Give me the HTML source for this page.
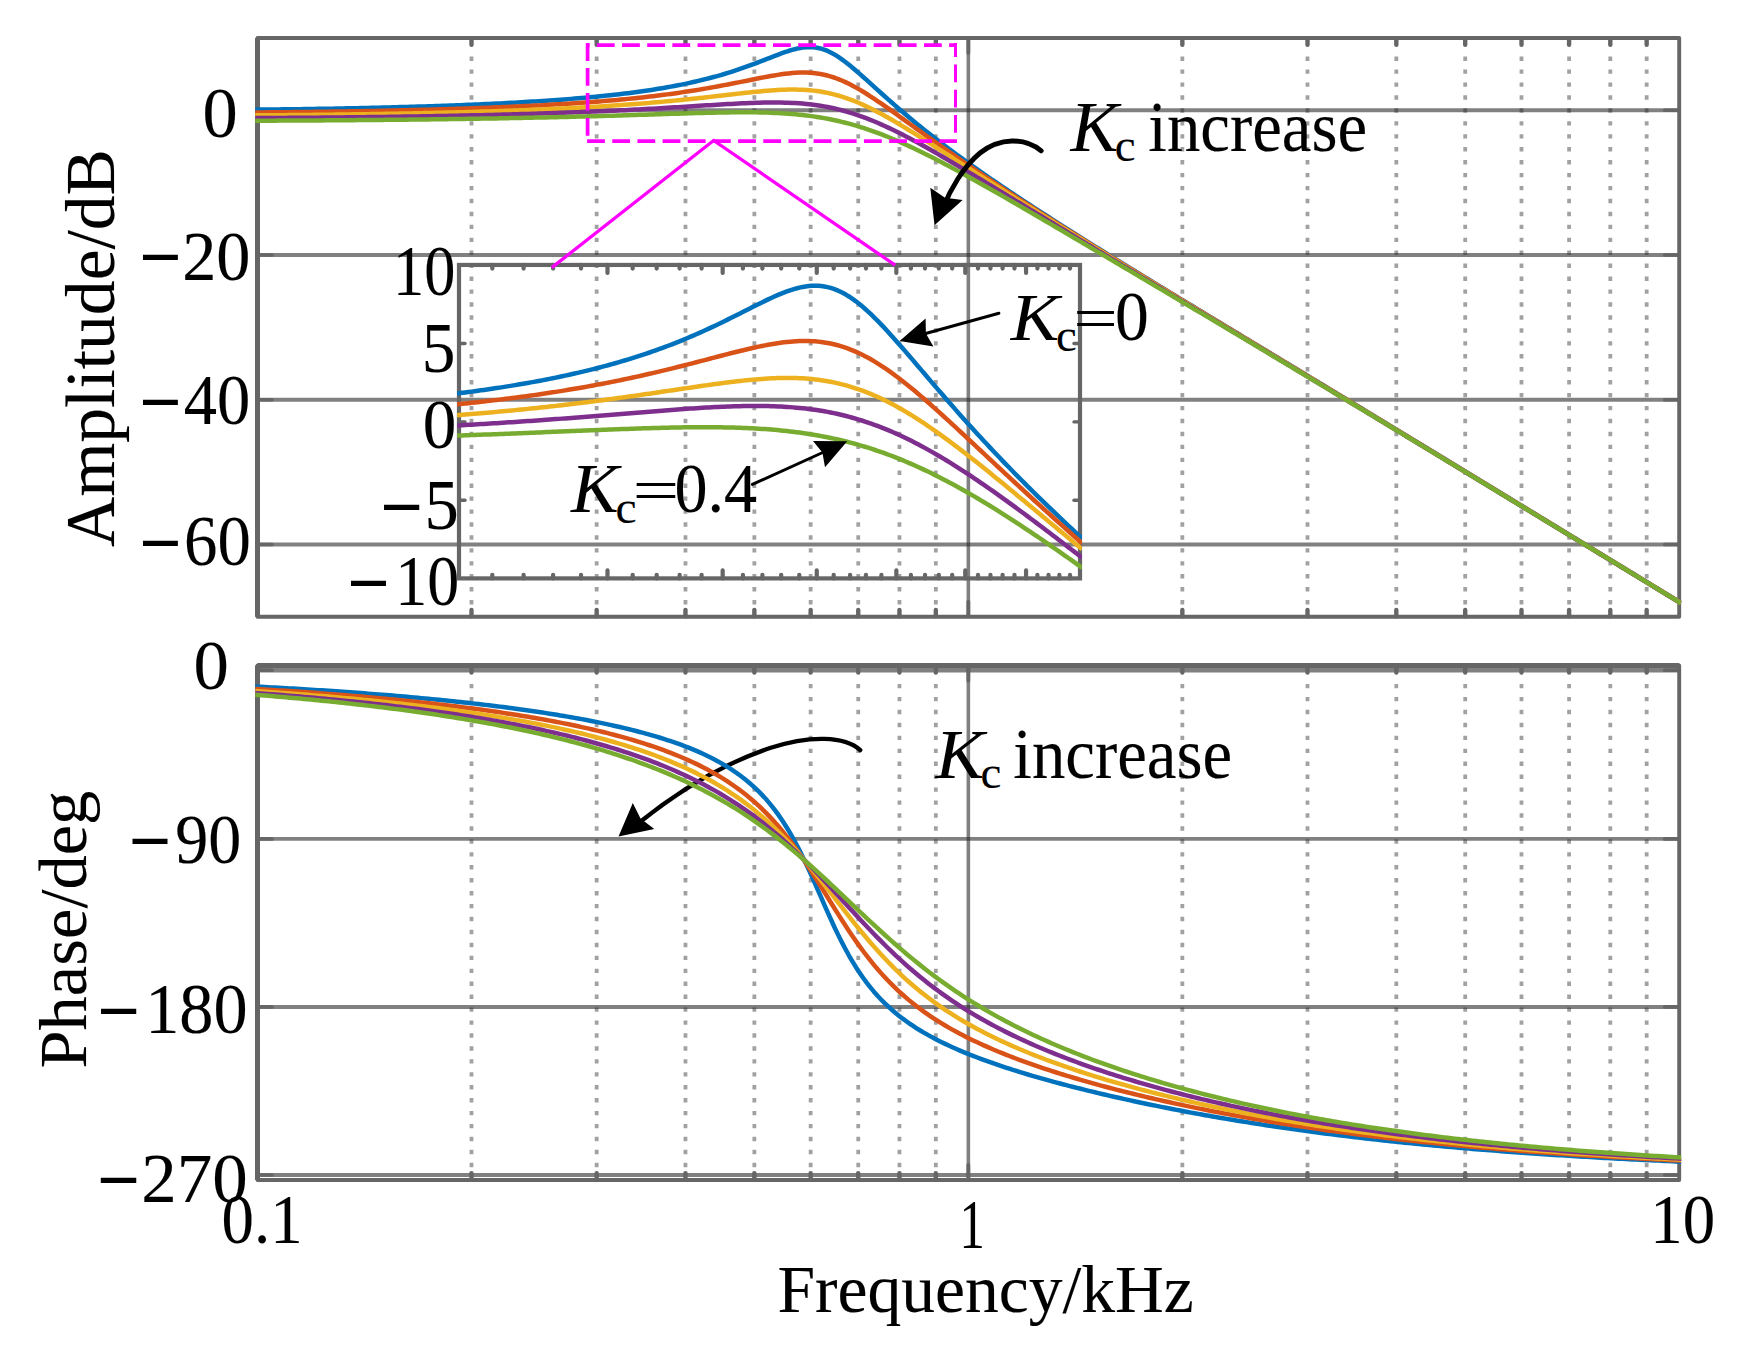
<!DOCTYPE html>
<html lang="en"><head><meta charset="utf-8"><title>Bode plot</title>
<style>html,body{margin:0;padding:0;background:#fff}svg{display:block}</style>
</head><body>
<svg width="1739" height="1354" viewBox="0 0 1739 1354">
<rect width="1739" height="1354" fill="#fff"/>
<defs>
<clipPath id="ct"><rect x="255.0" y="37.95" width="1426.2" height="578.8499999999999"/></clipPath>
<clipPath id="cb"><rect x="255.0" y="665.55" width="1426.2" height="514.45"/></clipPath>
<clipPath id="ci"><rect x="457.1" y="264.95" width="624.8" height="313.45"/></clipPath>
</defs>
<line x1="471.49" y1="56.50" x2="471.49" y2="612.80" stroke="#000" stroke-opacity="0.37" stroke-width="3.8" stroke-dasharray="4.4 8.54"/>
<line x1="596.66" y1="56.50" x2="596.66" y2="612.80" stroke="#000" stroke-opacity="0.37" stroke-width="3.8" stroke-dasharray="4.4 8.54"/>
<line x1="685.47" y1="56.50" x2="685.47" y2="612.80" stroke="#000" stroke-opacity="0.37" stroke-width="3.8" stroke-dasharray="4.4 8.54"/>
<line x1="754.36" y1="56.50" x2="754.36" y2="612.80" stroke="#000" stroke-opacity="0.37" stroke-width="3.8" stroke-dasharray="4.4 8.54"/>
<line x1="810.65" y1="56.50" x2="810.65" y2="612.80" stroke="#000" stroke-opacity="0.37" stroke-width="3.8" stroke-dasharray="4.4 8.54"/>
<line x1="858.24" y1="56.50" x2="858.24" y2="612.80" stroke="#000" stroke-opacity="0.37" stroke-width="3.8" stroke-dasharray="4.4 8.54"/>
<line x1="899.46" y1="56.50" x2="899.46" y2="612.80" stroke="#000" stroke-opacity="0.37" stroke-width="3.8" stroke-dasharray="4.4 8.54"/>
<line x1="935.82" y1="56.50" x2="935.82" y2="612.80" stroke="#000" stroke-opacity="0.37" stroke-width="3.8" stroke-dasharray="4.4 8.54"/>
<line x1="1182.34" y1="56.50" x2="1182.34" y2="612.80" stroke="#000" stroke-opacity="0.37" stroke-width="3.8" stroke-dasharray="4.4 8.54"/>
<line x1="1307.51" y1="56.50" x2="1307.51" y2="612.80" stroke="#000" stroke-opacity="0.37" stroke-width="3.8" stroke-dasharray="4.4 8.54"/>
<line x1="1396.32" y1="56.50" x2="1396.32" y2="612.80" stroke="#000" stroke-opacity="0.37" stroke-width="3.8" stroke-dasharray="4.4 8.54"/>
<line x1="1465.21" y1="56.50" x2="1465.21" y2="612.80" stroke="#000" stroke-opacity="0.37" stroke-width="3.8" stroke-dasharray="4.4 8.54"/>
<line x1="1521.50" y1="56.50" x2="1521.50" y2="612.80" stroke="#000" stroke-opacity="0.37" stroke-width="3.8" stroke-dasharray="4.4 8.54"/>
<line x1="1569.09" y1="56.50" x2="1569.09" y2="612.80" stroke="#000" stroke-opacity="0.37" stroke-width="3.8" stroke-dasharray="4.4 8.54"/>
<line x1="1610.31" y1="56.50" x2="1610.31" y2="612.80" stroke="#000" stroke-opacity="0.37" stroke-width="3.8" stroke-dasharray="4.4 8.54"/>
<line x1="1646.67" y1="56.50" x2="1646.67" y2="612.80" stroke="#000" stroke-opacity="0.37" stroke-width="3.8" stroke-dasharray="4.4 8.54"/>
<line x1="968.35" y1="37.95" x2="968.35" y2="616.80" stroke="#262626" stroke-opacity="0.585" stroke-width="3.6"/>
<line x1="257.50" y1="110.25" x2="1679.20" y2="110.25" stroke="#262626" stroke-opacity="0.585" stroke-width="3.9"/>
<line x1="257.50" y1="255.00" x2="1679.20" y2="255.00" stroke="#262626" stroke-opacity="0.585" stroke-width="3.9"/>
<line x1="257.50" y1="399.75" x2="1679.20" y2="399.75" stroke="#262626" stroke-opacity="0.585" stroke-width="3.9"/>
<line x1="257.50" y1="544.50" x2="1679.20" y2="544.50" stroke="#262626" stroke-opacity="0.585" stroke-width="3.9"/>
<line x1="258.50" y1="110.25" x2="272.00" y2="110.25" stroke="#666666" stroke-width="3.6999999999999997" stroke-linecap="round"/>
<line x1="1678.20" y1="110.25" x2="1664.70" y2="110.25" stroke="#666666" stroke-width="3.6999999999999997" stroke-linecap="round"/>
<line x1="258.50" y1="255.00" x2="272.00" y2="255.00" stroke="#666666" stroke-width="3.6999999999999997" stroke-linecap="round"/>
<line x1="1678.20" y1="255.00" x2="1664.70" y2="255.00" stroke="#666666" stroke-width="3.6999999999999997" stroke-linecap="round"/>
<line x1="258.50" y1="399.75" x2="272.00" y2="399.75" stroke="#666666" stroke-width="3.6999999999999997" stroke-linecap="round"/>
<line x1="1678.20" y1="399.75" x2="1664.70" y2="399.75" stroke="#666666" stroke-width="3.6999999999999997" stroke-linecap="round"/>
<line x1="258.50" y1="544.50" x2="272.00" y2="544.50" stroke="#666666" stroke-width="3.6999999999999997" stroke-linecap="round"/>
<line x1="1678.20" y1="544.50" x2="1664.70" y2="544.50" stroke="#666666" stroke-width="3.6999999999999997" stroke-linecap="round"/>
<line x1="471.49" y1="38.55" x2="471.49" y2="44.85" stroke="#666666" stroke-width="4.4" stroke-linecap="round"/>
<line x1="471.49" y1="616.20" x2="471.49" y2="609.90" stroke="#666666" stroke-width="4.4" stroke-linecap="round"/>
<line x1="596.66" y1="38.55" x2="596.66" y2="44.85" stroke="#666666" stroke-width="4.4" stroke-linecap="round"/>
<line x1="596.66" y1="616.20" x2="596.66" y2="609.90" stroke="#666666" stroke-width="4.4" stroke-linecap="round"/>
<line x1="685.47" y1="38.55" x2="685.47" y2="44.85" stroke="#666666" stroke-width="4.4" stroke-linecap="round"/>
<line x1="685.47" y1="616.20" x2="685.47" y2="609.90" stroke="#666666" stroke-width="4.4" stroke-linecap="round"/>
<line x1="754.36" y1="38.55" x2="754.36" y2="44.85" stroke="#666666" stroke-width="4.4" stroke-linecap="round"/>
<line x1="754.36" y1="616.20" x2="754.36" y2="609.90" stroke="#666666" stroke-width="4.4" stroke-linecap="round"/>
<line x1="810.65" y1="38.55" x2="810.65" y2="44.85" stroke="#666666" stroke-width="4.4" stroke-linecap="round"/>
<line x1="810.65" y1="616.20" x2="810.65" y2="609.90" stroke="#666666" stroke-width="4.4" stroke-linecap="round"/>
<line x1="858.24" y1="38.55" x2="858.24" y2="44.85" stroke="#666666" stroke-width="4.4" stroke-linecap="round"/>
<line x1="858.24" y1="616.20" x2="858.24" y2="609.90" stroke="#666666" stroke-width="4.4" stroke-linecap="round"/>
<line x1="899.46" y1="38.55" x2="899.46" y2="44.85" stroke="#666666" stroke-width="4.4" stroke-linecap="round"/>
<line x1="899.46" y1="616.20" x2="899.46" y2="609.90" stroke="#666666" stroke-width="4.4" stroke-linecap="round"/>
<line x1="935.82" y1="38.55" x2="935.82" y2="44.85" stroke="#666666" stroke-width="4.4" stroke-linecap="round"/>
<line x1="935.82" y1="616.20" x2="935.82" y2="609.90" stroke="#666666" stroke-width="4.4" stroke-linecap="round"/>
<line x1="1182.34" y1="38.55" x2="1182.34" y2="44.85" stroke="#666666" stroke-width="4.4" stroke-linecap="round"/>
<line x1="1182.34" y1="616.20" x2="1182.34" y2="609.90" stroke="#666666" stroke-width="4.4" stroke-linecap="round"/>
<line x1="1307.51" y1="38.55" x2="1307.51" y2="44.85" stroke="#666666" stroke-width="4.4" stroke-linecap="round"/>
<line x1="1307.51" y1="616.20" x2="1307.51" y2="609.90" stroke="#666666" stroke-width="4.4" stroke-linecap="round"/>
<line x1="1396.32" y1="38.55" x2="1396.32" y2="44.85" stroke="#666666" stroke-width="4.4" stroke-linecap="round"/>
<line x1="1396.32" y1="616.20" x2="1396.32" y2="609.90" stroke="#666666" stroke-width="4.4" stroke-linecap="round"/>
<line x1="1465.21" y1="38.55" x2="1465.21" y2="44.85" stroke="#666666" stroke-width="4.4" stroke-linecap="round"/>
<line x1="1465.21" y1="616.20" x2="1465.21" y2="609.90" stroke="#666666" stroke-width="4.4" stroke-linecap="round"/>
<line x1="1521.50" y1="38.55" x2="1521.50" y2="44.85" stroke="#666666" stroke-width="4.4" stroke-linecap="round"/>
<line x1="1521.50" y1="616.20" x2="1521.50" y2="609.90" stroke="#666666" stroke-width="4.4" stroke-linecap="round"/>
<line x1="1569.09" y1="38.55" x2="1569.09" y2="44.85" stroke="#666666" stroke-width="4.4" stroke-linecap="round"/>
<line x1="1569.09" y1="616.20" x2="1569.09" y2="609.90" stroke="#666666" stroke-width="4.4" stroke-linecap="round"/>
<line x1="1610.31" y1="38.55" x2="1610.31" y2="44.85" stroke="#666666" stroke-width="4.4" stroke-linecap="round"/>
<line x1="1610.31" y1="616.20" x2="1610.31" y2="609.90" stroke="#666666" stroke-width="4.4" stroke-linecap="round"/>
<line x1="1646.67" y1="38.55" x2="1646.67" y2="44.85" stroke="#666666" stroke-width="4.4" stroke-linecap="round"/>
<line x1="1646.67" y1="616.20" x2="1646.67" y2="609.90" stroke="#666666" stroke-width="4.4" stroke-linecap="round"/>
<line x1="968.35" y1="38.95" x2="968.35" y2="53.05" stroke="#666666" stroke-width="3.8" stroke-linecap="round"/>
<line x1="968.35" y1="615.80" x2="968.35" y2="601.70" stroke="#666666" stroke-width="3.8" stroke-linecap="round"/>
<rect x="257.50" y="37.95" width="1421.70" height="578.85" fill="none" stroke="#666666" stroke-width="3.9" stroke-linejoin="round"/>
<line x1="257.50" y1="37.95" x2="257.50" y2="616.80" stroke="#666666" stroke-width="5"/>
<g clip-path="url(#ct)" fill="none" stroke-width="4.5" stroke-linejoin="round" stroke-linecap="square">
<path d="M257.50 109.60 L261.06 109.57 L264.63 109.54 L268.19 109.50 L271.75 109.47 L275.32 109.43 L278.88 109.39 L282.44 109.35 L286.01 109.31 L289.57 109.27 L293.13 109.22 L296.69 109.18 L300.26 109.13 L303.82 109.08 L307.38 109.03 L310.95 108.98 L314.51 108.92 L318.07 108.87 L321.64 108.81 L325.20 108.75 L328.76 108.69 L332.33 108.63 L335.89 108.57 L339.45 108.50 L343.02 108.44 L346.58 108.37 L350.14 108.30 L353.71 108.22 L357.27 108.15 L360.83 108.08 L364.39 108.00 L367.96 107.92 L371.52 107.84 L375.08 107.76 L378.65 107.67 L382.21 107.59 L385.77 107.50 L389.34 107.41 L392.90 107.31 L396.46 107.22 L400.03 107.12 L403.59 107.02 L407.15 106.92 L410.72 106.82 L414.28 106.72 L417.84 106.61 L421.41 106.50 L424.97 106.39 L428.53 106.27 L432.09 106.16 L435.66 106.04 L439.22 105.92 L442.78 105.79 L446.35 105.66 L449.91 105.53 L453.47 105.40 L457.04 105.27 L460.60 105.13 L464.16 104.99 L467.73 104.84 L471.29 104.70 L474.85 104.54 L478.42 104.39 L481.98 104.23 L485.54 104.07 L489.11 103.91 L492.67 103.74 L496.23 103.57 L499.79 103.39 L503.36 103.21 L506.92 103.03 L510.48 102.84 L514.05 102.65 L517.61 102.46 L521.17 102.25 L524.74 102.05 L528.30 101.84 L531.86 101.62 L535.43 101.40 L538.99 101.18 L542.55 100.95 L546.12 100.71 L549.68 100.47 L553.24 100.22 L556.81 99.96 L560.37 99.70 L563.93 99.43 L567.49 99.16 L571.06 98.88 L574.62 98.59 L578.18 98.29 L581.75 97.99 L585.31 97.68 L588.87 97.36 L592.44 97.03 L596.00 96.69 L599.56 96.34 L603.13 95.98 L606.69 95.61 L610.25 95.24 L613.82 94.84 L617.38 94.44 L620.94 94.03 L624.51 93.60 L628.07 93.16 L631.63 92.70 L635.19 92.23 L638.76 91.75 L642.32 91.25 L645.88 90.74 L649.45 90.21 L653.01 89.66 L656.57 89.09 L660.14 88.51 L663.70 87.91 L667.26 87.29 L670.83 86.64 L674.39 85.98 L677.95 85.29 L681.52 84.59 L685.08 83.85 L688.64 83.10 L692.21 82.32 L695.77 81.51 L699.33 80.67 L702.89 79.81 L706.46 78.92 L710.02 77.99 L713.58 77.04 L717.15 76.06 L720.71 75.04 L724.27 73.99 L727.84 72.91 L731.40 71.79 L734.96 70.64 L738.53 69.46 L742.09 68.24 L745.65 66.99 L749.22 65.70 L752.78 64.39 L756.34 63.05 L759.91 61.69 L763.47 60.32 L767.03 58.93 L770.59 57.54 L774.16 56.15 L777.72 54.79 L781.28 53.47 L784.85 52.20 L788.41 51.01 L791.97 49.92 L795.54 48.97 L799.10 48.17 L802.66 47.57 L806.23 47.19 L809.79 47.07 L813.35 47.22 L816.92 47.68 L820.48 48.46 L824.04 49.55 L827.61 50.96 L831.17 52.66 L834.73 54.64 L838.29 56.88 L841.86 59.33 L845.42 61.98 L848.98 64.78 L852.55 67.70 L856.11 70.73 L859.67 73.83 L863.24 76.98 L866.80 80.17 L870.36 83.39 L873.93 86.60 L877.49 89.82 L881.05 93.02 L884.62 96.21 L888.18 99.38 L891.74 102.52 L895.31 105.63 L898.87 108.71 L902.43 111.76 L905.99 114.78 L909.56 117.77 L913.12 120.73 L916.68 123.65 L920.25 126.55 L923.81 129.41 L927.37 132.25 L930.94 135.06 L934.50 137.84 L938.06 140.59 L941.63 143.32 L945.19 146.02 L948.75 148.69 L952.32 151.35 L955.88 153.98 L959.44 156.59 L963.01 159.18 L966.57 161.75 L970.13 164.30 L973.69 166.84 L977.26 169.35 L980.82 171.85 L984.38 174.34 L987.95 176.81 L991.51 179.26 L995.07 181.70 L998.64 184.13 L1002.20 186.54 L1005.76 188.95 L1009.33 191.34 L1012.89 193.72 L1016.45 196.09 L1020.02 198.44 L1023.58 200.79 L1027.14 203.13 L1030.71 205.47 L1034.27 207.79 L1037.83 210.10 L1041.39 212.41 L1044.96 214.71 L1048.52 217.00 L1052.08 219.29 L1055.65 221.57 L1059.21 223.84 L1062.77 226.11 L1066.34 228.37 L1069.90 230.63 L1073.46 232.88 L1077.03 235.13 L1080.59 237.37 L1084.15 239.60 L1087.72 241.84 L1091.28 244.07 L1094.84 246.29 L1098.41 248.51 L1101.97 250.73 L1105.53 252.94 L1109.09 255.15 L1112.66 257.36 L1116.22 259.56 L1119.78 261.76 L1123.35 263.96 L1126.91 266.15 L1130.47 268.35 L1134.04 270.54 L1137.60 272.72 L1141.16 274.91 L1144.73 277.09 L1148.29 279.27 L1151.85 281.45 L1155.42 283.62 L1158.98 285.80 L1162.54 287.97 L1166.11 290.14 L1169.67 292.30 L1173.23 294.47 L1176.79 296.63 L1180.36 298.80 L1183.92 300.96 L1187.48 303.12 L1191.05 305.27 L1194.61 307.43 L1198.17 309.59 L1201.74 311.75 L1205.30 313.90 L1208.86 316.06 L1212.43 318.22 L1215.99 320.37 L1219.55 322.53 L1223.12 324.68 L1226.68 326.84 L1230.24 328.99 L1233.81 331.15 L1237.37 333.30 L1240.93 335.46 L1244.49 337.61 L1248.06 339.77 L1251.62 341.92 L1255.18 344.08 L1258.75 346.23 L1262.31 348.39 L1265.87 350.54 L1269.44 352.70 L1273.00 354.85 L1276.56 357.01 L1280.13 359.16 L1283.69 361.32 L1287.25 363.47 L1290.82 365.63 L1294.38 367.78 L1297.94 369.94 L1301.51 372.10 L1305.07 374.25 L1308.63 376.41 L1312.19 378.57 L1315.76 380.72 L1319.32 382.88 L1322.88 385.04 L1326.45 387.20 L1330.01 389.35 L1333.57 391.51 L1337.14 393.67 L1340.70 395.83 L1344.26 397.99 L1347.83 400.15 L1351.39 402.31 L1354.95 404.47 L1358.52 406.63 L1362.08 408.79 L1365.64 410.95 L1369.21 413.11 L1372.77 415.27 L1376.33 417.43 L1379.89 419.59 L1383.46 421.75 L1387.02 423.91 L1390.58 426.07 L1394.15 428.24 L1397.71 430.40 L1401.27 432.56 L1404.84 434.73 L1408.40 436.89 L1411.96 439.05 L1415.53 441.22 L1419.09 443.38 L1422.65 445.54 L1426.22 447.71 L1429.78 449.87 L1433.34 452.04 L1436.91 454.20 L1440.47 456.37 L1444.03 458.53 L1447.59 460.70 L1451.16 462.86 L1454.72 465.03 L1458.28 467.20 L1461.85 469.36 L1465.41 471.53 L1468.97 473.70 L1472.54 475.86 L1476.10 478.03 L1479.66 480.20 L1483.23 482.37 L1486.79 484.53 L1490.35 486.70 L1493.92 488.87 L1497.48 491.04 L1501.04 493.21 L1504.61 495.38 L1508.17 497.54 L1511.73 499.71 L1515.29 501.88 L1518.86 504.05 L1522.42 506.22 L1525.98 508.39 L1529.55 510.56 L1533.11 512.73 L1536.67 514.90 L1540.24 517.07 L1543.80 519.24 L1547.36 521.41 L1550.93 523.58 L1554.49 525.75 L1558.05 527.92 L1561.62 530.09 L1565.18 532.26 L1568.74 534.44 L1572.31 536.61 L1575.87 538.78 L1579.43 540.95 L1582.99 543.12 L1586.56 545.29 L1590.12 547.46 L1593.68 549.64 L1597.25 551.81 L1600.81 553.98 L1604.37 556.15 L1607.94 558.33 L1611.50 560.50 L1615.06 562.67 L1618.63 564.84 L1622.19 567.02 L1625.75 569.19 L1629.32 571.36 L1632.88 573.53 L1636.44 575.71 L1640.01 577.88 L1643.57 580.05 L1647.13 582.23 L1650.69 584.40 L1654.26 586.57 L1657.82 588.75 L1661.38 590.92 L1664.95 593.09 L1668.51 595.27 L1672.07 597.44 L1675.64 599.62 L1679.20 601.79" stroke="#0072BD"/>
<path d="M257.50 112.44 L261.06 112.42 L264.63 112.39 L268.19 112.36 L271.75 112.33 L275.32 112.30 L278.88 112.26 L282.44 112.23 L286.01 112.19 L289.57 112.16 L293.13 112.12 L296.69 112.08 L300.26 112.04 L303.82 112.00 L307.38 111.96 L310.95 111.91 L314.51 111.87 L318.07 111.82 L321.64 111.77 L325.20 111.72 L328.76 111.67 L332.33 111.62 L335.89 111.57 L339.45 111.51 L343.02 111.45 L346.58 111.40 L350.14 111.34 L353.71 111.28 L357.27 111.22 L360.83 111.15 L364.39 111.09 L367.96 111.02 L371.52 110.95 L375.08 110.88 L378.65 110.81 L382.21 110.74 L385.77 110.67 L389.34 110.59 L392.90 110.51 L396.46 110.43 L400.03 110.35 L403.59 110.27 L407.15 110.19 L410.72 110.10 L414.28 110.01 L417.84 109.92 L421.41 109.83 L424.97 109.73 L428.53 109.64 L432.09 109.54 L435.66 109.44 L439.22 109.34 L442.78 109.23 L446.35 109.13 L449.91 109.02 L453.47 108.91 L457.04 108.79 L460.60 108.68 L464.16 108.56 L467.73 108.44 L471.29 108.31 L474.85 108.19 L478.42 108.06 L481.98 107.93 L485.54 107.79 L489.11 107.66 L492.67 107.51 L496.23 107.37 L499.79 107.22 L503.36 107.07 L506.92 106.92 L510.48 106.76 L514.05 106.60 L517.61 106.44 L521.17 106.27 L524.74 106.10 L528.30 105.93 L531.86 105.75 L535.43 105.56 L538.99 105.38 L542.55 105.18 L546.12 104.99 L549.68 104.79 L553.24 104.58 L556.81 104.37 L560.37 104.16 L563.93 103.94 L567.49 103.71 L571.06 103.48 L574.62 103.24 L578.18 103.00 L581.75 102.75 L585.31 102.50 L588.87 102.24 L592.44 101.97 L596.00 101.70 L599.56 101.42 L603.13 101.13 L606.69 100.83 L610.25 100.53 L613.82 100.22 L617.38 99.90 L620.94 99.57 L624.51 99.23 L628.07 98.88 L631.63 98.52 L635.19 98.16 L638.76 97.78 L642.32 97.39 L645.88 96.99 L649.45 96.59 L653.01 96.17 L656.57 95.74 L660.14 95.29 L663.70 94.84 L667.26 94.37 L670.83 93.90 L674.39 93.40 L677.95 92.90 L681.52 92.38 L685.08 91.85 L688.64 91.31 L692.21 90.76 L695.77 90.19 L699.33 89.60 L702.89 89.00 L706.46 88.39 L710.02 87.77 L713.58 87.13 L717.15 86.48 L720.71 85.82 L724.27 85.15 L727.84 84.46 L731.40 83.77 L734.96 83.07 L738.53 82.36 L742.09 81.64 L745.65 80.92 L749.22 80.20 L752.78 79.48 L756.34 78.77 L759.91 78.07 L763.47 77.37 L767.03 76.70 L770.59 76.05 L774.16 75.43 L777.72 74.85 L781.28 74.31 L784.85 73.83 L788.41 73.40 L791.97 73.05 L795.54 72.78 L799.10 72.60 L802.66 72.52 L806.23 72.56 L809.79 72.71 L813.35 73.00 L816.92 73.42 L820.48 73.98 L824.04 74.70 L827.61 75.56 L831.17 76.58 L834.73 77.75 L838.29 79.06 L841.86 80.52 L845.42 82.11 L848.98 83.83 L852.55 85.67 L856.11 87.61 L859.67 89.66 L863.24 91.79 L866.80 94.00 L870.36 96.28 L873.93 98.62 L877.49 101.01 L881.05 103.45 L884.62 105.92 L888.18 108.42 L891.74 110.94 L895.31 113.48 L898.87 116.03 L902.43 118.59 L905.99 121.16 L909.56 123.73 L913.12 126.30 L916.68 128.87 L920.25 131.43 L923.81 134.00 L927.37 136.55 L930.94 139.10 L934.50 141.64 L938.06 144.17 L941.63 146.69 L945.19 149.20 L948.75 151.69 L952.32 154.18 L955.88 156.66 L959.44 159.13 L963.01 161.59 L966.57 164.03 L970.13 166.47 L973.69 168.89 L977.26 171.31 L980.82 173.71 L984.38 176.11 L987.95 178.49 L991.51 180.87 L995.07 183.24 L998.64 185.60 L1002.20 187.95 L1005.76 190.29 L1009.33 192.62 L1012.89 194.95 L1016.45 197.27 L1020.02 199.58 L1023.58 201.88 L1027.14 204.18 L1030.71 206.47 L1034.27 208.75 L1037.83 211.03 L1041.39 213.31 L1044.96 215.57 L1048.52 217.83 L1052.08 220.09 L1055.65 222.34 L1059.21 224.59 L1062.77 226.83 L1066.34 229.07 L1069.90 231.30 L1073.46 233.53 L1077.03 235.76 L1080.59 237.98 L1084.15 240.20 L1087.72 242.41 L1091.28 244.62 L1094.84 246.83 L1098.41 249.04 L1101.97 251.24 L1105.53 253.44 L1109.09 255.63 L1112.66 257.83 L1116.22 260.02 L1119.78 262.21 L1123.35 264.39 L1126.91 266.58 L1130.47 268.76 L1134.04 270.94 L1137.60 273.11 L1141.16 275.29 L1144.73 277.46 L1148.29 279.63 L1151.85 281.80 L1155.42 283.97 L1158.98 286.14 L1162.54 288.30 L1166.11 290.46 L1169.67 292.62 L1173.23 294.78 L1176.79 296.94 L1180.36 299.09 L1183.92 301.25 L1187.48 303.40 L1191.05 305.56 L1194.61 307.71 L1198.17 309.86 L1201.74 312.01 L1205.30 314.17 L1208.86 316.32 L1212.43 318.47 L1215.99 320.62 L1219.55 322.77 L1223.12 324.92 L1226.68 327.07 L1230.24 329.23 L1233.81 331.38 L1237.37 333.53 L1240.93 335.68 L1244.49 337.83 L1248.06 339.98 L1251.62 342.13 L1255.18 344.29 L1258.75 346.44 L1262.31 348.59 L1265.87 350.74 L1269.44 352.89 L1273.00 355.05 L1276.56 357.20 L1280.13 359.35 L1283.69 361.50 L1287.25 363.66 L1290.82 365.81 L1294.38 367.96 L1297.94 370.12 L1301.51 372.27 L1305.07 374.43 L1308.63 376.58 L1312.19 378.74 L1315.76 380.89 L1319.32 383.05 L1322.88 385.20 L1326.45 387.36 L1330.01 389.51 L1333.57 391.67 L1337.14 393.83 L1340.70 395.98 L1344.26 398.14 L1347.83 400.30 L1351.39 402.46 L1354.95 404.62 L1358.52 406.77 L1362.08 408.93 L1365.64 411.09 L1369.21 413.25 L1372.77 415.41 L1376.33 417.57 L1379.89 419.73 L1383.46 421.89 L1387.02 424.05 L1390.58 426.21 L1394.15 428.37 L1397.71 430.54 L1401.27 432.70 L1404.84 434.86 L1408.40 437.02 L1411.96 439.19 L1415.53 441.35 L1419.09 443.51 L1422.65 445.67 L1426.22 447.84 L1429.78 450.00 L1433.34 452.17 L1436.91 454.33 L1440.47 456.49 L1444.03 458.66 L1447.59 460.82 L1451.16 462.99 L1454.72 465.15 L1458.28 467.32 L1461.85 469.49 L1465.41 471.65 L1468.97 473.82 L1472.54 475.99 L1476.10 478.15 L1479.66 480.32 L1483.23 482.49 L1486.79 484.65 L1490.35 486.82 L1493.92 488.99 L1497.48 491.16 L1501.04 493.32 L1504.61 495.49 L1508.17 497.66 L1511.73 499.83 L1515.29 502.00 L1518.86 504.17 L1522.42 506.34 L1525.98 508.50 L1529.55 510.67 L1533.11 512.84 L1536.67 515.01 L1540.24 517.18 L1543.80 519.35 L1547.36 521.52 L1550.93 523.69 L1554.49 525.86 L1558.05 528.03 L1561.62 530.20 L1565.18 532.37 L1568.74 534.55 L1572.31 536.72 L1575.87 538.89 L1579.43 541.06 L1582.99 543.23 L1586.56 545.40 L1590.12 547.57 L1593.68 549.74 L1597.25 551.92 L1600.81 554.09 L1604.37 556.26 L1607.94 558.43 L1611.50 560.60 L1615.06 562.78 L1618.63 564.95 L1622.19 567.12 L1625.75 569.29 L1629.32 571.47 L1632.88 573.64 L1636.44 575.81 L1640.01 577.99 L1643.57 580.16 L1647.13 582.33 L1650.69 584.50 L1654.26 586.68 L1657.82 588.85 L1661.38 591.02 L1664.95 593.20 L1668.51 595.37 L1672.07 597.54 L1675.64 599.72 L1679.20 601.89" stroke="#D95319"/>
<path d="M257.50 115.34 L261.06 115.32 L264.63 115.29 L268.19 115.27 L271.75 115.24 L275.32 115.22 L278.88 115.19 L282.44 115.16 L286.01 115.13 L289.57 115.10 L293.13 115.07 L296.69 115.04 L300.26 115.00 L303.82 114.97 L307.38 114.93 L310.95 114.90 L314.51 114.86 L318.07 114.82 L321.64 114.78 L325.20 114.74 L328.76 114.70 L332.33 114.65 L335.89 114.61 L339.45 114.56 L343.02 114.52 L346.58 114.47 L350.14 114.42 L353.71 114.37 L357.27 114.32 L360.83 114.27 L364.39 114.21 L367.96 114.16 L371.52 114.10 L375.08 114.05 L378.65 113.99 L382.21 113.93 L385.77 113.87 L389.34 113.80 L392.90 113.74 L396.46 113.67 L400.03 113.61 L403.59 113.54 L407.15 113.47 L410.72 113.40 L414.28 113.32 L417.84 113.25 L421.41 113.18 L424.97 113.10 L428.53 113.02 L432.09 112.94 L435.66 112.86 L439.22 112.77 L442.78 112.69 L446.35 112.60 L449.91 112.51 L453.47 112.42 L457.04 112.33 L460.60 112.23 L464.16 112.14 L467.73 112.04 L471.29 111.94 L474.85 111.83 L478.42 111.73 L481.98 111.62 L485.54 111.51 L489.11 111.40 L492.67 111.29 L496.23 111.17 L499.79 111.05 L503.36 110.93 L506.92 110.81 L510.48 110.68 L514.05 110.55 L517.61 110.42 L521.17 110.29 L524.74 110.15 L528.30 110.01 L531.86 109.87 L535.43 109.72 L538.99 109.57 L542.55 109.42 L546.12 109.27 L549.68 109.11 L553.24 108.94 L556.81 108.78 L560.37 108.61 L563.93 108.44 L567.49 108.26 L571.06 108.08 L574.62 107.89 L578.18 107.71 L581.75 107.51 L585.31 107.32 L588.87 107.11 L592.44 106.91 L596.00 106.70 L599.56 106.48 L603.13 106.26 L606.69 106.04 L610.25 105.81 L613.82 105.57 L617.38 105.33 L620.94 105.08 L624.51 104.83 L628.07 104.57 L631.63 104.30 L635.19 104.03 L638.76 103.76 L642.32 103.47 L645.88 103.18 L649.45 102.88 L653.01 102.58 L656.57 102.27 L660.14 101.96 L663.70 101.63 L667.26 101.30 L670.83 100.97 L674.39 100.63 L677.95 100.28 L681.52 99.92 L685.08 99.56 L688.64 99.19 L692.21 98.82 L695.77 98.44 L699.33 98.06 L702.89 97.67 L706.46 97.27 L710.02 96.88 L713.58 96.48 L717.15 96.07 L720.71 95.66 L724.27 95.26 L727.84 94.85 L731.40 94.44 L734.96 94.04 L738.53 93.63 L742.09 93.24 L745.65 92.85 L749.22 92.47 L752.78 92.10 L756.34 91.74 L759.91 91.40 L763.47 91.07 L767.03 90.77 L770.59 90.50 L774.16 90.25 L777.72 90.03 L781.28 89.85 L784.85 89.71 L788.41 89.62 L791.97 89.58 L795.54 89.59 L799.10 89.66 L802.66 89.79 L806.23 90.00 L809.79 90.27 L813.35 90.63 L816.92 91.06 L820.48 91.58 L824.04 92.19 L827.61 92.89 L831.17 93.68 L834.73 94.56 L838.29 95.54 L841.86 96.61 L845.42 97.77 L848.98 99.02 L852.55 100.36 L856.11 101.78 L859.67 103.29 L863.24 104.87 L866.80 106.52 L870.36 108.25 L873.93 110.04 L877.49 111.89 L881.05 113.79 L884.62 115.74 L888.18 117.74 L891.74 119.78 L895.31 121.86 L898.87 123.97 L902.43 126.11 L905.99 128.28 L909.56 130.47 L913.12 132.68 L916.68 134.91 L920.25 137.15 L923.81 139.41 L927.37 141.67 L930.94 143.95 L934.50 146.24 L938.06 148.53 L941.63 150.82 L945.19 153.12 L948.75 155.42 L952.32 157.72 L955.88 160.02 L959.44 162.32 L963.01 164.62 L966.57 166.92 L970.13 169.22 L973.69 171.51 L977.26 173.81 L980.82 176.10 L984.38 178.38 L987.95 180.67 L991.51 182.94 L995.07 185.22 L998.64 187.49 L1002.20 189.76 L1005.76 192.03 L1009.33 194.29 L1012.89 196.54 L1016.45 198.80 L1020.02 201.05 L1023.58 203.29 L1027.14 205.53 L1030.71 207.77 L1034.27 210.01 L1037.83 212.24 L1041.39 214.47 L1044.96 216.69 L1048.52 218.91 L1052.08 221.13 L1055.65 223.35 L1059.21 225.56 L1062.77 227.77 L1066.34 229.98 L1069.90 232.18 L1073.46 234.38 L1077.03 236.58 L1080.59 238.78 L1084.15 240.97 L1087.72 243.16 L1091.28 245.35 L1094.84 247.54 L1098.41 249.72 L1101.97 251.91 L1105.53 254.09 L1109.09 256.26 L1112.66 258.44 L1116.22 260.62 L1119.78 262.79 L1123.35 264.96 L1126.91 267.13 L1130.47 269.30 L1134.04 271.47 L1137.60 273.63 L1141.16 275.79 L1144.73 277.96 L1148.29 280.12 L1151.85 282.28 L1155.42 284.43 L1158.98 286.59 L1162.54 288.74 L1166.11 290.90 L1169.67 293.05 L1173.23 295.20 L1176.79 297.35 L1180.36 299.50 L1183.92 301.65 L1187.48 303.79 L1191.05 305.94 L1194.61 308.09 L1198.17 310.23 L1201.74 312.38 L1205.30 314.53 L1208.86 316.67 L1212.43 318.82 L1215.99 320.97 L1219.55 323.11 L1223.12 325.26 L1226.68 327.41 L1230.24 329.56 L1233.81 331.70 L1237.37 333.85 L1240.93 336.00 L1244.49 338.15 L1248.06 340.29 L1251.62 342.44 L1255.18 344.59 L1258.75 346.74 L1262.31 348.89 L1265.87 351.04 L1269.44 353.19 L1273.00 355.34 L1276.56 357.49 L1280.13 359.64 L1283.69 361.79 L1287.25 363.94 L1290.82 366.09 L1294.38 368.24 L1297.94 370.39 L1301.51 372.54 L1305.07 374.70 L1308.63 376.85 L1312.19 379.00 L1315.76 381.16 L1319.32 383.31 L1322.88 385.46 L1326.45 387.62 L1330.01 389.77 L1333.57 391.93 L1337.14 394.08 L1340.70 396.24 L1344.26 398.40 L1347.83 400.55 L1351.39 402.71 L1354.95 404.87 L1358.52 407.02 L1362.08 409.18 L1365.64 411.34 L1369.21 413.50 L1372.77 415.66 L1376.33 417.81 L1379.89 419.97 L1383.46 422.13 L1387.02 424.29 L1390.58 426.45 L1394.15 428.61 L1397.71 430.77 L1401.27 432.94 L1404.84 435.10 L1408.40 437.26 L1411.96 439.42 L1415.53 441.58 L1419.09 443.74 L1422.65 445.91 L1426.22 448.07 L1429.78 450.23 L1433.34 452.40 L1436.91 454.56 L1440.47 456.72 L1444.03 458.89 L1447.59 461.05 L1451.16 463.22 L1454.72 465.38 L1458.28 467.55 L1461.85 469.71 L1465.41 471.88 L1468.97 474.05 L1472.54 476.21 L1476.10 478.38 L1479.66 480.54 L1483.23 482.71 L1486.79 484.88 L1490.35 487.04 L1493.92 489.21 L1497.48 491.38 L1501.04 493.55 L1504.61 495.71 L1508.17 497.88 L1511.73 500.05 L1515.29 502.22 L1518.86 504.39 L1522.42 506.56 L1525.98 508.73 L1529.55 510.89 L1533.11 513.06 L1536.67 515.23 L1540.24 517.40 L1543.80 519.57 L1547.36 521.74 L1550.93 523.91 L1554.49 526.08 L1558.05 528.25 L1561.62 530.42 L1565.18 532.59 L1568.74 534.76 L1572.31 536.93 L1575.87 539.11 L1579.43 541.28 L1582.99 543.45 L1586.56 545.62 L1590.12 547.79 L1593.68 549.96 L1597.25 552.13 L1600.81 554.30 L1604.37 556.48 L1607.94 558.65 L1611.50 560.82 L1615.06 562.99 L1618.63 565.17 L1622.19 567.34 L1625.75 569.51 L1629.32 571.68 L1632.88 573.85 L1636.44 576.03 L1640.01 578.20 L1643.57 580.37 L1647.13 582.55 L1650.69 584.72 L1654.26 586.89 L1657.82 589.07 L1661.38 591.24 L1664.95 593.41 L1668.51 595.59 L1672.07 597.76 L1675.64 599.93 L1679.20 602.11" stroke="#EDB120"/>
<path d="M257.50 118.05 L261.06 118.03 L264.63 118.01 L268.19 117.99 L271.75 117.97 L275.32 117.95 L278.88 117.93 L282.44 117.91 L286.01 117.88 L289.57 117.86 L293.13 117.83 L296.69 117.81 L300.26 117.78 L303.82 117.75 L307.38 117.73 L310.95 117.70 L314.51 117.67 L318.07 117.64 L321.64 117.60 L325.20 117.57 L328.76 117.54 L332.33 117.50 L335.89 117.47 L339.45 117.43 L343.02 117.40 L346.58 117.36 L350.14 117.32 L353.71 117.28 L357.27 117.24 L360.83 117.20 L364.39 117.16 L367.96 117.11 L371.52 117.07 L375.08 117.02 L378.65 116.98 L382.21 116.93 L385.77 116.88 L389.34 116.83 L392.90 116.78 L396.46 116.73 L400.03 116.68 L403.59 116.62 L407.15 116.57 L410.72 116.51 L414.28 116.46 L417.84 116.40 L421.41 116.34 L424.97 116.28 L428.53 116.22 L432.09 116.15 L435.66 116.09 L439.22 116.02 L442.78 115.96 L446.35 115.89 L449.91 115.82 L453.47 115.75 L457.04 115.68 L460.60 115.60 L464.16 115.53 L467.73 115.45 L471.29 115.37 L474.85 115.30 L478.42 115.21 L481.98 115.13 L485.54 115.05 L489.11 114.96 L492.67 114.88 L496.23 114.79 L499.79 114.70 L503.36 114.60 L506.92 114.51 L510.48 114.41 L514.05 114.31 L517.61 114.21 L521.17 114.11 L524.74 114.01 L528.30 113.90 L531.86 113.80 L535.43 113.69 L538.99 113.57 L542.55 113.46 L546.12 113.34 L549.68 113.23 L553.24 113.10 L556.81 112.98 L560.37 112.86 L563.93 112.73 L567.49 112.60 L571.06 112.47 L574.62 112.33 L578.18 112.19 L581.75 112.05 L585.31 111.91 L588.87 111.77 L592.44 111.62 L596.00 111.47 L599.56 111.31 L603.13 111.16 L606.69 111.00 L610.25 110.83 L613.82 110.67 L617.38 110.50 L620.94 110.33 L624.51 110.15 L628.07 109.97 L631.63 109.79 L635.19 109.60 L638.76 109.42 L642.32 109.22 L645.88 109.03 L649.45 108.83 L653.01 108.63 L656.57 108.43 L660.14 108.22 L663.70 108.01 L667.26 107.80 L670.83 107.59 L674.39 107.37 L677.95 107.15 L681.52 106.93 L685.08 106.71 L688.64 106.49 L692.21 106.27 L695.77 106.04 L699.33 105.82 L702.89 105.60 L706.46 105.37 L710.02 105.15 L713.58 104.93 L717.15 104.72 L720.71 104.50 L724.27 104.29 L727.84 104.09 L731.40 103.89 L734.96 103.70 L738.53 103.52 L742.09 103.35 L745.65 103.19 L749.22 103.04 L752.78 102.90 L756.34 102.79 L759.91 102.68 L763.47 102.60 L767.03 102.54 L770.59 102.50 L774.16 102.49 L777.72 102.50 L781.28 102.55 L784.85 102.63 L788.41 102.74 L791.97 102.89 L795.54 103.08 L799.10 103.31 L802.66 103.59 L806.23 103.92 L809.79 104.30 L813.35 104.73 L816.92 105.21 L820.48 105.75 L824.04 106.35 L827.61 107.01 L831.17 107.73 L834.73 108.52 L838.29 109.36 L841.86 110.28 L845.42 111.25 L848.98 112.29 L852.55 113.39 L856.11 114.56 L859.67 115.78 L863.24 117.07 L866.80 118.41 L870.36 119.81 L873.93 121.27 L877.49 122.78 L881.05 124.34 L884.62 125.94 L888.18 127.59 L891.74 129.29 L895.31 131.02 L898.87 132.79 L902.43 134.60 L905.99 136.44 L909.56 138.31 L913.12 140.21 L916.68 142.14 L920.25 144.09 L923.81 146.07 L927.37 148.07 L930.94 150.08 L934.50 152.12 L938.06 154.16 L941.63 156.23 L945.19 158.30 L948.75 160.39 L952.32 162.49 L955.88 164.60 L959.44 166.71 L963.01 168.83 L966.57 170.96 L970.13 173.10 L973.69 175.24 L977.26 177.38 L980.82 179.53 L984.38 181.68 L987.95 183.84 L991.51 186.00 L995.07 188.16 L998.64 190.32 L1002.20 192.48 L1005.76 194.64 L1009.33 196.81 L1012.89 198.97 L1016.45 201.14 L1020.02 203.30 L1023.58 205.47 L1027.14 207.63 L1030.71 209.80 L1034.27 211.96 L1037.83 214.13 L1041.39 216.29 L1044.96 218.45 L1048.52 220.62 L1052.08 222.78 L1055.65 224.94 L1059.21 227.10 L1062.77 229.26 L1066.34 231.42 L1069.90 233.58 L1073.46 235.74 L1077.03 237.89 L1080.59 240.05 L1084.15 242.20 L1087.72 244.36 L1091.28 246.51 L1094.84 248.67 L1098.41 250.82 L1101.97 252.97 L1105.53 255.12 L1109.09 257.27 L1112.66 259.42 L1116.22 261.57 L1119.78 263.71 L1123.35 265.86 L1126.91 268.01 L1130.47 270.15 L1134.04 272.29 L1137.60 274.44 L1141.16 276.58 L1144.73 278.72 L1148.29 280.86 L1151.85 283.00 L1155.42 285.14 L1158.98 287.28 L1162.54 289.42 L1166.11 291.56 L1169.67 293.70 L1173.23 295.83 L1176.79 297.97 L1180.36 300.10 L1183.92 302.24 L1187.48 304.37 L1191.05 306.50 L1194.61 308.64 L1198.17 310.77 L1201.74 312.91 L1205.30 315.04 L1208.86 317.18 L1212.43 319.32 L1215.99 321.45 L1219.55 323.59 L1223.12 325.73 L1226.68 327.87 L1230.24 330.00 L1233.81 332.14 L1237.37 334.28 L1240.93 336.42 L1244.49 338.56 L1248.06 340.70 L1251.62 342.84 L1255.18 344.98 L1258.75 347.13 L1262.31 349.27 L1265.87 351.41 L1269.44 353.55 L1273.00 355.70 L1276.56 357.84 L1280.13 359.99 L1283.69 362.13 L1287.25 364.28 L1290.82 366.42 L1294.38 368.57 L1297.94 370.72 L1301.51 372.86 L1305.07 375.01 L1308.63 377.16 L1312.19 379.31 L1315.76 381.46 L1319.32 383.61 L1322.88 385.76 L1326.45 387.91 L1330.01 390.06 L1333.57 392.21 L1337.14 394.36 L1340.70 396.51 L1344.26 398.67 L1347.83 400.82 L1351.39 402.97 L1354.95 405.13 L1358.52 407.28 L1362.08 409.44 L1365.64 411.59 L1369.21 413.75 L1372.77 415.90 L1376.33 418.06 L1379.89 420.22 L1383.46 422.37 L1387.02 424.53 L1390.58 426.69 L1394.15 428.85 L1397.71 431.00 L1401.27 433.16 L1404.84 435.32 L1408.40 437.48 L1411.96 439.64 L1415.53 441.80 L1419.09 443.96 L1422.65 446.12 L1426.22 448.28 L1429.78 450.45 L1433.34 452.61 L1436.91 454.77 L1440.47 456.93 L1444.03 459.09 L1447.59 461.26 L1451.16 463.42 L1454.72 465.58 L1458.28 467.75 L1461.85 469.91 L1465.41 472.08 L1468.97 474.24 L1472.54 476.41 L1476.10 478.57 L1479.66 480.74 L1483.23 482.90 L1486.79 485.07 L1490.35 487.23 L1493.92 489.40 L1497.48 491.56 L1501.04 493.73 L1504.61 495.90 L1508.17 498.07 L1511.73 500.23 L1515.29 502.40 L1518.86 504.57 L1522.42 506.74 L1525.98 508.90 L1529.55 511.07 L1533.11 513.24 L1536.67 515.41 L1540.24 517.58 L1543.80 519.75 L1547.36 521.91 L1550.93 524.08 L1554.49 526.25 L1558.05 528.42 L1561.62 530.59 L1565.18 532.76 L1568.74 534.93 L1572.31 537.10 L1575.87 539.27 L1579.43 541.44 L1582.99 543.61 L1586.56 545.78 L1590.12 547.95 L1593.68 550.13 L1597.25 552.30 L1600.81 554.47 L1604.37 556.64 L1607.94 558.81 L1611.50 560.98 L1615.06 563.15 L1618.63 565.33 L1622.19 567.50 L1625.75 569.67 L1629.32 571.84 L1632.88 574.01 L1636.44 576.19 L1640.01 578.36 L1643.57 580.53 L1647.13 582.70 L1650.69 584.88 L1654.26 587.05 L1657.82 589.22 L1661.38 591.39 L1664.95 593.57 L1668.51 595.74 L1672.07 597.91 L1675.64 600.09 L1679.20 602.26" stroke="#7E2F8E"/>
<path d="M257.50 120.71 L261.06 120.70 L264.63 120.68 L268.19 120.67 L271.75 120.65 L275.32 120.64 L278.88 120.62 L282.44 120.61 L286.01 120.59 L289.57 120.57 L293.13 120.55 L296.69 120.53 L300.26 120.51 L303.82 120.49 L307.38 120.47 L310.95 120.45 L314.51 120.43 L318.07 120.41 L321.64 120.39 L325.20 120.36 L328.76 120.34 L332.33 120.31 L335.89 120.29 L339.45 120.26 L343.02 120.23 L346.58 120.21 L350.14 120.18 L353.71 120.15 L357.27 120.12 L360.83 120.09 L364.39 120.06 L367.96 120.03 L371.52 120.00 L375.08 119.97 L378.65 119.93 L382.21 119.90 L385.77 119.86 L389.34 119.83 L392.90 119.79 L396.46 119.76 L400.03 119.72 L403.59 119.68 L407.15 119.64 L410.72 119.60 L414.28 119.56 L417.84 119.52 L421.41 119.48 L424.97 119.43 L428.53 119.39 L432.09 119.34 L435.66 119.30 L439.22 119.25 L442.78 119.20 L446.35 119.16 L449.91 119.11 L453.47 119.06 L457.04 119.01 L460.60 118.95 L464.16 118.90 L467.73 118.85 L471.29 118.79 L474.85 118.74 L478.42 118.68 L481.98 118.62 L485.54 118.56 L489.11 118.50 L492.67 118.44 L496.23 118.38 L499.79 118.31 L503.36 118.25 L506.92 118.18 L510.48 118.12 L514.05 118.05 L517.61 117.98 L521.17 117.91 L524.74 117.84 L528.30 117.76 L531.86 117.69 L535.43 117.61 L538.99 117.54 L542.55 117.46 L546.12 117.38 L549.68 117.30 L553.24 117.22 L556.81 117.14 L560.37 117.05 L563.93 116.97 L567.49 116.88 L571.06 116.79 L574.62 116.70 L578.18 116.61 L581.75 116.52 L585.31 116.42 L588.87 116.33 L592.44 116.23 L596.00 116.14 L599.56 116.04 L603.13 115.94 L606.69 115.84 L610.25 115.73 L613.82 115.63 L617.38 115.53 L620.94 115.42 L624.51 115.31 L628.07 115.20 L631.63 115.09 L635.19 114.98 L638.76 114.87 L642.32 114.76 L645.88 114.65 L649.45 114.53 L653.01 114.42 L656.57 114.31 L660.14 114.19 L663.70 114.08 L667.26 113.96 L670.83 113.85 L674.39 113.74 L677.95 113.63 L681.52 113.52 L685.08 113.41 L688.64 113.30 L692.21 113.20 L695.77 113.10 L699.33 113.00 L702.89 112.91 L706.46 112.82 L710.02 112.73 L713.58 112.65 L717.15 112.58 L720.71 112.51 L724.27 112.45 L727.84 112.40 L731.40 112.35 L734.96 112.32 L738.53 112.30 L742.09 112.29 L745.65 112.29 L749.22 112.30 L752.78 112.33 L756.34 112.37 L759.91 112.44 L763.47 112.52 L767.03 112.62 L770.59 112.74 L774.16 112.88 L777.72 113.05 L781.28 113.24 L784.85 113.46 L788.41 113.71 L791.97 113.99 L795.54 114.30 L799.10 114.64 L802.66 115.02 L806.23 115.44 L809.79 115.89 L813.35 116.38 L816.92 116.92 L820.48 117.49 L824.04 118.11 L827.61 118.77 L831.17 119.47 L834.73 120.22 L838.29 121.02 L841.86 121.86 L845.42 122.76 L848.98 123.69 L852.55 124.68 L856.11 125.71 L859.67 126.79 L863.24 127.92 L866.80 129.09 L870.36 130.30 L873.93 131.56 L877.49 132.87 L881.05 134.21 L884.62 135.60 L888.18 137.03 L891.74 138.49 L895.31 139.99 L898.87 141.53 L902.43 143.10 L905.99 144.70 L909.56 146.34 L913.12 148.01 L916.68 149.70 L920.25 151.43 L923.81 153.18 L927.37 154.95 L930.94 156.75 L934.50 158.56 L938.06 160.40 L941.63 162.26 L945.19 164.14 L948.75 166.03 L952.32 167.94 L955.88 169.86 L959.44 171.80 L963.01 173.75 L966.57 175.72 L970.13 177.69 L973.69 179.67 L977.26 181.67 L980.82 183.67 L984.38 185.68 L987.95 187.70 L991.51 189.72 L995.07 191.76 L998.64 193.80 L1002.20 195.84 L1005.76 197.89 L1009.33 199.94 L1012.89 202.00 L1016.45 204.07 L1020.02 206.13 L1023.58 208.20 L1027.14 210.28 L1030.71 212.36 L1034.27 214.44 L1037.83 216.52 L1041.39 218.60 L1044.96 220.69 L1048.52 222.78 L1052.08 224.87 L1055.65 226.96 L1059.21 229.06 L1062.77 231.16 L1066.34 233.25 L1069.90 235.35 L1073.46 237.45 L1077.03 239.55 L1080.59 241.66 L1084.15 243.76 L1087.72 245.87 L1091.28 247.97 L1094.84 250.08 L1098.41 252.18 L1101.97 254.29 L1105.53 256.40 L1109.09 258.51 L1112.66 260.62 L1116.22 262.73 L1119.78 264.84 L1123.35 266.95 L1126.91 269.06 L1130.47 271.17 L1134.04 273.28 L1137.60 275.40 L1141.16 277.51 L1144.73 279.62 L1148.29 281.73 L1151.85 283.85 L1155.42 285.96 L1158.98 288.07 L1162.54 290.18 L1166.11 292.30 L1169.67 294.41 L1173.23 296.52 L1176.79 298.64 L1180.36 300.75 L1183.92 302.86 L1187.48 304.97 L1191.05 307.09 L1194.61 309.20 L1198.17 311.32 L1201.74 313.44 L1205.30 315.55 L1208.86 317.67 L1212.43 319.79 L1215.99 321.91 L1219.55 324.03 L1223.12 326.16 L1226.68 328.28 L1230.24 330.40 L1233.81 332.53 L1237.37 334.65 L1240.93 336.78 L1244.49 338.90 L1248.06 341.03 L1251.62 343.16 L1255.18 345.29 L1258.75 347.42 L1262.31 349.55 L1265.87 351.68 L1269.44 353.81 L1273.00 355.95 L1276.56 358.08 L1280.13 360.22 L1283.69 362.35 L1287.25 364.49 L1290.82 366.62 L1294.38 368.76 L1297.94 370.90 L1301.51 373.04 L1305.07 375.18 L1308.63 377.32 L1312.19 379.46 L1315.76 381.60 L1319.32 383.74 L1322.88 385.88 L1326.45 388.03 L1330.01 390.17 L1333.57 392.32 L1337.14 394.46 L1340.70 396.61 L1344.26 398.75 L1347.83 400.90 L1351.39 403.05 L1354.95 405.20 L1358.52 407.34 L1362.08 409.49 L1365.64 411.64 L1369.21 413.79 L1372.77 415.94 L1376.33 418.09 L1379.89 420.25 L1383.46 422.40 L1387.02 424.55 L1390.58 426.70 L1394.15 428.86 L1397.71 431.01 L1401.27 433.17 L1404.84 435.32 L1408.40 437.48 L1411.96 439.63 L1415.53 441.79 L1419.09 443.95 L1422.65 446.10 L1426.22 448.26 L1429.78 450.42 L1433.34 452.58 L1436.91 454.74 L1440.47 456.89 L1444.03 459.05 L1447.59 461.21 L1451.16 463.37 L1454.72 465.53 L1458.28 467.69 L1461.85 469.86 L1465.41 472.02 L1468.97 474.18 L1472.54 476.34 L1476.10 478.50 L1479.66 480.67 L1483.23 482.83 L1486.79 484.99 L1490.35 487.16 L1493.92 489.32 L1497.48 491.48 L1501.04 493.65 L1504.61 495.81 L1508.17 497.98 L1511.73 500.14 L1515.29 502.31 L1518.86 504.47 L1522.42 506.64 L1525.98 508.81 L1529.55 510.97 L1533.11 513.14 L1536.67 515.31 L1540.24 517.47 L1543.80 519.64 L1547.36 521.81 L1550.93 523.97 L1554.49 526.14 L1558.05 528.31 L1561.62 530.48 L1565.18 532.65 L1568.74 534.82 L1572.31 536.98 L1575.87 539.15 L1579.43 541.32 L1582.99 543.49 L1586.56 545.66 L1590.12 547.83 L1593.68 550.00 L1597.25 552.17 L1600.81 554.34 L1604.37 556.51 L1607.94 558.68 L1611.50 560.85 L1615.06 563.02 L1618.63 565.19 L1622.19 567.36 L1625.75 569.53 L1629.32 571.71 L1632.88 573.88 L1636.44 576.05 L1640.01 578.22 L1643.57 580.39 L1647.13 582.56 L1650.69 584.73 L1654.26 586.91 L1657.82 589.08 L1661.38 591.25 L1664.95 593.42 L1668.51 595.60 L1672.07 597.77 L1675.64 599.94 L1679.20 602.11" stroke="#77AC30"/>
</g>
<g stroke="#FF00FF" stroke-width="3.7" fill="none">
<line x1="587.6" y1="43.1" x2="587.6" y2="143.1" stroke-dasharray="17.8 7.16"/>
<line x1="586.0" y1="141.1" x2="957" y2="141.1" stroke-dasharray="17.8 7.37" stroke-dashoffset="-1.1"/>
<line x1="955.5" y1="132.8" x2="955.5" y2="43.1" stroke-dasharray="17.8 7.5" stroke-width="3"/>
<line x1="587.6" y1="45.1" x2="957" y2="45.1" stroke-dasharray="17.8 7.36" stroke-dashoffset="15.86"/>
</g>
<rect x="459.0" y="264.95" width="621.0" height="313.45" fill="none" stroke="#666666" stroke-width="4.2"/>
<line x1="492.31" y1="264.95" x2="492.31" y2="268.60" stroke="#666666" stroke-width="4.2" stroke-linecap="round"/>
<line x1="492.31" y1="578.40" x2="492.31" y2="574.75" stroke="#666666" stroke-width="4.2" stroke-linecap="round"/>
<line x1="523.60" y1="264.95" x2="523.60" y2="268.60" stroke="#666666" stroke-width="4.2" stroke-linecap="round"/>
<line x1="523.60" y1="578.40" x2="523.60" y2="574.75" stroke="#666666" stroke-width="4.2" stroke-linecap="round"/>
<line x1="553.11" y1="264.95" x2="553.11" y2="268.60" stroke="#666666" stroke-width="4.2" stroke-linecap="round"/>
<line x1="553.11" y1="578.40" x2="553.11" y2="574.75" stroke="#666666" stroke-width="4.2" stroke-linecap="round"/>
<line x1="581.01" y1="264.95" x2="581.01" y2="268.60" stroke="#666666" stroke-width="4.2" stroke-linecap="round"/>
<line x1="581.01" y1="578.40" x2="581.01" y2="574.75" stroke="#666666" stroke-width="4.2" stroke-linecap="round"/>
<line x1="607.49" y1="264.95" x2="607.49" y2="272.95" stroke="#666666" stroke-width="4.2" stroke-linecap="round"/>
<line x1="607.49" y1="578.40" x2="607.49" y2="570.40" stroke="#666666" stroke-width="4.2" stroke-linecap="round"/>
<line x1="632.67" y1="264.95" x2="632.67" y2="268.60" stroke="#666666" stroke-width="4.2" stroke-linecap="round"/>
<line x1="632.67" y1="578.40" x2="632.67" y2="574.75" stroke="#666666" stroke-width="4.2" stroke-linecap="round"/>
<line x1="656.68" y1="264.95" x2="656.68" y2="268.60" stroke="#666666" stroke-width="4.2" stroke-linecap="round"/>
<line x1="656.68" y1="578.40" x2="656.68" y2="574.75" stroke="#666666" stroke-width="4.2" stroke-linecap="round"/>
<line x1="679.63" y1="264.95" x2="679.63" y2="268.60" stroke="#666666" stroke-width="4.2" stroke-linecap="round"/>
<line x1="679.63" y1="578.40" x2="679.63" y2="574.75" stroke="#666666" stroke-width="4.2" stroke-linecap="round"/>
<line x1="701.60" y1="264.95" x2="701.60" y2="268.60" stroke="#666666" stroke-width="4.2" stroke-linecap="round"/>
<line x1="701.60" y1="578.40" x2="701.60" y2="574.75" stroke="#666666" stroke-width="4.2" stroke-linecap="round"/>
<line x1="722.67" y1="264.95" x2="722.67" y2="272.95" stroke="#666666" stroke-width="4.2" stroke-linecap="round"/>
<line x1="722.67" y1="578.40" x2="722.67" y2="570.40" stroke="#666666" stroke-width="4.2" stroke-linecap="round"/>
<line x1="742.91" y1="264.95" x2="742.91" y2="268.60" stroke="#666666" stroke-width="4.2" stroke-linecap="round"/>
<line x1="742.91" y1="578.40" x2="742.91" y2="574.75" stroke="#666666" stroke-width="4.2" stroke-linecap="round"/>
<line x1="762.39" y1="264.95" x2="762.39" y2="268.60" stroke="#666666" stroke-width="4.2" stroke-linecap="round"/>
<line x1="762.39" y1="578.40" x2="762.39" y2="574.75" stroke="#666666" stroke-width="4.2" stroke-linecap="round"/>
<line x1="781.16" y1="264.95" x2="781.16" y2="268.60" stroke="#666666" stroke-width="4.2" stroke-linecap="round"/>
<line x1="781.16" y1="578.40" x2="781.16" y2="574.75" stroke="#666666" stroke-width="4.2" stroke-linecap="round"/>
<line x1="799.28" y1="264.95" x2="799.28" y2="268.60" stroke="#666666" stroke-width="4.2" stroke-linecap="round"/>
<line x1="799.28" y1="578.40" x2="799.28" y2="574.75" stroke="#666666" stroke-width="4.2" stroke-linecap="round"/>
<line x1="816.77" y1="264.95" x2="816.77" y2="272.95" stroke="#666666" stroke-width="4.2" stroke-linecap="round"/>
<line x1="816.77" y1="578.40" x2="816.77" y2="570.40" stroke="#666666" stroke-width="4.2" stroke-linecap="round"/>
<line x1="833.70" y1="264.95" x2="833.70" y2="268.60" stroke="#666666" stroke-width="4.2" stroke-linecap="round"/>
<line x1="833.70" y1="578.40" x2="833.70" y2="574.75" stroke="#666666" stroke-width="4.2" stroke-linecap="round"/>
<line x1="850.09" y1="264.95" x2="850.09" y2="268.60" stroke="#666666" stroke-width="4.2" stroke-linecap="round"/>
<line x1="850.09" y1="578.40" x2="850.09" y2="574.75" stroke="#666666" stroke-width="4.2" stroke-linecap="round"/>
<line x1="865.97" y1="264.95" x2="865.97" y2="268.60" stroke="#666666" stroke-width="4.2" stroke-linecap="round"/>
<line x1="865.97" y1="578.40" x2="865.97" y2="574.75" stroke="#666666" stroke-width="4.2" stroke-linecap="round"/>
<line x1="881.38" y1="264.95" x2="881.38" y2="268.60" stroke="#666666" stroke-width="4.2" stroke-linecap="round"/>
<line x1="881.38" y1="578.40" x2="881.38" y2="574.75" stroke="#666666" stroke-width="4.2" stroke-linecap="round"/>
<line x1="896.34" y1="264.95" x2="896.34" y2="272.95" stroke="#666666" stroke-width="4.2" stroke-linecap="round"/>
<line x1="896.34" y1="578.40" x2="896.34" y2="570.40" stroke="#666666" stroke-width="4.2" stroke-linecap="round"/>
<line x1="910.88" y1="264.95" x2="910.88" y2="268.60" stroke="#666666" stroke-width="4.2" stroke-linecap="round"/>
<line x1="910.88" y1="578.40" x2="910.88" y2="574.75" stroke="#666666" stroke-width="4.2" stroke-linecap="round"/>
<line x1="925.02" y1="264.95" x2="925.02" y2="268.60" stroke="#666666" stroke-width="4.2" stroke-linecap="round"/>
<line x1="925.02" y1="578.40" x2="925.02" y2="574.75" stroke="#666666" stroke-width="4.2" stroke-linecap="round"/>
<line x1="938.79" y1="264.95" x2="938.79" y2="268.60" stroke="#666666" stroke-width="4.2" stroke-linecap="round"/>
<line x1="938.79" y1="578.40" x2="938.79" y2="574.75" stroke="#666666" stroke-width="4.2" stroke-linecap="round"/>
<line x1="952.20" y1="264.95" x2="952.20" y2="268.60" stroke="#666666" stroke-width="4.2" stroke-linecap="round"/>
<line x1="952.20" y1="578.40" x2="952.20" y2="574.75" stroke="#666666" stroke-width="4.2" stroke-linecap="round"/>
<line x1="965.26" y1="264.95" x2="965.26" y2="272.95" stroke="#666666" stroke-width="4.2" stroke-linecap="round"/>
<line x1="965.26" y1="578.40" x2="965.26" y2="570.40" stroke="#666666" stroke-width="4.2" stroke-linecap="round"/>
<line x1="978.01" y1="264.95" x2="978.01" y2="268.60" stroke="#666666" stroke-width="4.2" stroke-linecap="round"/>
<line x1="978.01" y1="578.40" x2="978.01" y2="574.75" stroke="#666666" stroke-width="4.2" stroke-linecap="round"/>
<line x1="990.45" y1="264.95" x2="990.45" y2="268.60" stroke="#666666" stroke-width="4.2" stroke-linecap="round"/>
<line x1="990.45" y1="578.40" x2="990.45" y2="574.75" stroke="#666666" stroke-width="4.2" stroke-linecap="round"/>
<line x1="1002.59" y1="264.95" x2="1002.59" y2="268.60" stroke="#666666" stroke-width="4.2" stroke-linecap="round"/>
<line x1="1002.59" y1="578.40" x2="1002.59" y2="574.75" stroke="#666666" stroke-width="4.2" stroke-linecap="round"/>
<line x1="1014.46" y1="264.95" x2="1014.46" y2="268.60" stroke="#666666" stroke-width="4.2" stroke-linecap="round"/>
<line x1="1014.46" y1="578.40" x2="1014.46" y2="574.75" stroke="#666666" stroke-width="4.2" stroke-linecap="round"/>
<line x1="1026.06" y1="264.95" x2="1026.06" y2="272.95" stroke="#666666" stroke-width="4.2" stroke-linecap="round"/>
<line x1="1026.06" y1="578.40" x2="1026.06" y2="570.40" stroke="#666666" stroke-width="4.2" stroke-linecap="round"/>
<line x1="1037.40" y1="264.95" x2="1037.40" y2="268.60" stroke="#666666" stroke-width="4.2" stroke-linecap="round"/>
<line x1="1037.40" y1="578.40" x2="1037.40" y2="574.75" stroke="#666666" stroke-width="4.2" stroke-linecap="round"/>
<line x1="1048.50" y1="264.95" x2="1048.50" y2="268.60" stroke="#666666" stroke-width="4.2" stroke-linecap="round"/>
<line x1="1048.50" y1="578.40" x2="1048.50" y2="574.75" stroke="#666666" stroke-width="4.2" stroke-linecap="round"/>
<line x1="1059.37" y1="264.95" x2="1059.37" y2="268.60" stroke="#666666" stroke-width="4.2" stroke-linecap="round"/>
<line x1="1059.37" y1="578.40" x2="1059.37" y2="574.75" stroke="#666666" stroke-width="4.2" stroke-linecap="round"/>
<line x1="1070.01" y1="264.95" x2="1070.01" y2="268.60" stroke="#666666" stroke-width="4.2" stroke-linecap="round"/>
<line x1="1070.01" y1="578.40" x2="1070.01" y2="574.75" stroke="#666666" stroke-width="4.2" stroke-linecap="round"/>
<line x1="459.0" y1="343.55" x2="465.0" y2="343.55" stroke="#666666" stroke-width="3.4" stroke-linecap="round"/>
<line x1="1080.0" y1="343.55" x2="1074.0" y2="343.55" stroke="#666666" stroke-width="3.4" stroke-linecap="round"/>
<line x1="459.0" y1="421.90" x2="465.0" y2="421.90" stroke="#666666" stroke-width="3.4" stroke-linecap="round"/>
<line x1="1080.0" y1="421.90" x2="1074.0" y2="421.90" stroke="#666666" stroke-width="3.4" stroke-linecap="round"/>
<line x1="459.0" y1="500.25" x2="465.0" y2="500.25" stroke="#666666" stroke-width="3.4" stroke-linecap="round"/>
<line x1="1080.0" y1="500.25" x2="1074.0" y2="500.25" stroke="#666666" stroke-width="3.4" stroke-linecap="round"/>
<path d="M551.8 267.6 L713.6 140.5 L895.2 265.2" fill="none" stroke="#FF00FF" stroke-width="3.3"/>
<g clip-path="url(#ci)" fill="none" stroke-width="4.5" stroke-linejoin="round" stroke-linecap="square">
<path d="M459.00 393.24 L462.12 392.85 L465.25 392.45 L468.37 392.04 L471.49 391.63 L474.61 391.21 L477.74 390.78 L480.86 390.35 L483.98 389.91 L487.11 389.46 L490.23 389.01 L493.35 388.55 L496.47 388.08 L499.60 387.61 L502.72 387.12 L505.84 386.63 L508.97 386.13 L512.09 385.63 L515.21 385.11 L518.33 384.59 L521.46 384.06 L524.58 383.52 L527.70 382.97 L530.82 382.41 L533.95 381.84 L537.07 381.27 L540.19 380.68 L543.32 380.09 L546.44 379.48 L549.56 378.87 L552.68 378.24 L555.81 377.60 L558.93 376.96 L562.05 376.30 L565.18 375.63 L568.30 374.95 L571.42 374.26 L574.54 373.56 L577.67 372.84 L580.79 372.11 L583.91 371.37 L587.04 370.62 L590.16 369.85 L593.28 369.08 L596.40 368.28 L599.53 367.48 L602.65 366.66 L605.77 365.82 L608.90 364.98 L612.02 364.11 L615.14 363.23 L618.26 362.34 L621.39 361.43 L624.51 360.51 L627.63 359.57 L630.76 358.61 L633.88 357.63 L637.00 356.64 L640.12 355.63 L643.25 354.61 L646.37 353.56 L649.49 352.50 L652.61 351.42 L655.74 350.32 L658.86 349.20 L661.98 348.07 L665.11 346.91 L668.23 345.73 L671.35 344.54 L674.47 343.32 L677.60 342.09 L680.72 340.83 L683.84 339.55 L686.97 338.26 L690.09 336.94 L693.21 335.60 L696.33 334.25 L699.46 332.87 L702.58 331.47 L705.70 330.05 L708.83 328.62 L711.95 327.16 L715.07 325.69 L718.19 324.20 L721.32 322.70 L724.44 321.18 L727.56 319.64 L730.69 318.09 L733.81 316.53 L736.93 314.96 L740.05 313.39 L743.18 311.81 L746.30 310.23 L749.42 308.65 L752.55 307.07 L755.67 305.50 L758.79 303.95 L761.91 302.41 L765.04 300.89 L768.16 299.40 L771.28 297.95 L774.40 296.54 L777.53 295.17 L780.65 293.86 L783.77 292.61 L786.90 291.44 L790.02 290.35 L793.14 289.35 L796.26 288.45 L799.39 287.66 L802.51 287.00 L805.63 286.46 L808.76 286.07 L811.88 285.82 L815.00 285.74 L818.12 285.82 L821.25 286.08 L824.37 286.51 L827.49 287.13 L830.62 287.94 L833.74 288.94 L836.86 290.13 L839.98 291.51 L843.11 293.07 L846.23 294.82 L849.35 296.74 L852.48 298.83 L855.60 301.09 L858.72 303.49 L861.84 306.05 L864.97 308.73 L868.09 311.55 L871.21 314.48 L874.34 317.51 L877.46 320.64 L880.58 323.85 L883.70 327.15 L886.83 330.50 L889.95 333.92 L893.07 337.39 L896.19 340.90 L899.32 344.45 L902.44 348.03 L905.56 351.64 L908.69 355.27 L911.81 358.90 L914.93 362.56 L918.05 366.21 L921.18 369.87 L924.30 373.53 L927.42 377.19 L930.55 380.84 L933.67 384.48 L936.79 388.11 L939.91 391.73 L943.04 395.34 L946.16 398.94 L949.28 402.52 L952.41 406.08 L955.53 409.63 L958.65 413.16 L961.77 416.67 L964.90 420.16 L968.02 423.63 L971.14 427.09 L974.27 430.53 L977.39 433.94 L980.51 437.34 L983.63 440.72 L986.76 444.07 L989.88 447.41 L993.00 450.73 L996.13 454.04 L999.25 457.32 L1002.37 460.58 L1005.49 463.83 L1008.62 467.05 L1011.74 470.26 L1014.86 473.46 L1017.98 476.63 L1021.11 479.79 L1024.23 482.93 L1027.35 486.05 L1030.48 489.16 L1033.60 492.25 L1036.72 495.33 L1039.84 498.39 L1042.97 501.44 L1046.09 504.47 L1049.21 507.49 L1052.34 510.49 L1055.46 513.48 L1058.58 516.46 L1061.70 519.42 L1064.83 522.37 L1067.95 525.31 L1071.07 528.24 L1074.20 531.15 L1077.32 534.05 L1080.44 536.94" stroke="#0072BD"/>
<path d="M459.00 404.13 L462.12 403.82 L465.25 403.49 L468.37 403.16 L471.49 402.83 L474.61 402.50 L477.74 402.15 L480.86 401.81 L483.98 401.46 L487.11 401.10 L490.23 400.74 L493.35 400.37 L496.47 400.00 L499.60 399.62 L502.72 399.24 L505.84 398.85 L508.97 398.46 L512.09 398.06 L515.21 397.66 L518.33 397.25 L521.46 396.83 L524.58 396.41 L527.70 395.98 L530.82 395.55 L533.95 395.11 L537.07 394.66 L540.19 394.21 L543.32 393.75 L546.44 393.28 L549.56 392.81 L552.68 392.33 L555.81 391.85 L558.93 391.35 L562.05 390.86 L565.18 390.35 L568.30 389.84 L571.42 389.32 L574.54 388.79 L577.67 388.25 L580.79 387.71 L583.91 387.16 L587.04 386.61 L590.16 386.04 L593.28 385.47 L596.40 384.89 L599.53 384.30 L602.65 383.71 L605.77 383.10 L608.90 382.49 L612.02 381.87 L615.14 381.24 L618.26 380.61 L621.39 379.97 L624.51 379.31 L627.63 378.65 L630.76 377.99 L633.88 377.31 L637.00 376.63 L640.12 375.94 L643.25 375.24 L646.37 374.53 L649.49 373.81 L652.61 373.09 L655.74 372.36 L658.86 371.62 L661.98 370.87 L665.11 370.12 L668.23 369.36 L671.35 368.59 L674.47 367.82 L677.60 367.04 L680.72 366.26 L683.84 365.47 L686.97 364.67 L690.09 363.87 L693.21 363.06 L696.33 362.25 L699.46 361.44 L702.58 360.63 L705.70 359.81 L708.83 358.99 L711.95 358.17 L715.07 357.35 L718.19 356.54 L721.32 355.72 L724.44 354.91 L727.56 354.10 L730.69 353.30 L733.81 352.51 L736.93 351.72 L740.05 350.95 L743.18 350.19 L746.30 349.44 L749.42 348.71 L752.55 347.99 L755.67 347.29 L758.79 346.62 L761.91 345.97 L765.04 345.35 L768.16 344.75 L771.28 344.19 L774.40 343.66 L777.53 343.17 L780.65 342.72 L783.77 342.32 L786.90 341.96 L790.02 341.65 L793.14 341.39 L796.26 341.19 L799.39 341.05 L802.51 340.97 L805.63 340.96 L808.76 341.01 L811.88 341.14 L815.00 341.34 L818.12 341.62 L821.25 341.98 L824.37 342.42 L827.49 342.95 L830.62 343.56 L833.74 344.26 L836.86 345.04 L839.98 345.92 L843.11 346.88 L846.23 347.94 L849.35 349.09 L852.48 350.33 L855.60 351.65 L858.72 353.07 L861.84 354.57 L864.97 356.16 L868.09 357.83 L871.21 359.58 L874.34 361.41 L877.46 363.32 L880.58 365.30 L883.70 367.35 L886.83 369.47 L889.95 371.66 L893.07 373.90 L896.19 376.21 L899.32 378.57 L902.44 380.98 L905.56 383.44 L908.69 385.95 L911.81 388.50 L914.93 391.09 L918.05 393.72 L921.18 396.38 L924.30 399.07 L927.42 401.80 L930.55 404.54 L933.67 407.32 L936.79 410.11 L939.91 412.92 L943.04 415.76 L946.16 418.60 L949.28 421.46 L952.41 424.34 L955.53 427.22 L958.65 430.11 L961.77 433.01 L964.90 435.92 L968.02 438.83 L971.14 441.74 L974.27 444.66 L977.39 447.58 L980.51 450.50 L983.63 453.42 L986.76 456.34 L989.88 459.26 L993.00 462.18 L996.13 465.09 L999.25 468.00 L1002.37 470.91 L1005.49 473.82 L1008.62 476.72 L1011.74 479.61 L1014.86 482.50 L1017.98 485.39 L1021.11 488.27 L1024.23 491.14 L1027.35 494.01 L1030.48 496.87 L1033.60 499.72 L1036.72 502.57 L1039.84 505.42 L1042.97 508.25 L1046.09 511.08 L1049.21 513.90 L1052.34 516.72 L1055.46 519.53 L1058.58 522.33 L1061.70 525.13 L1064.83 527.92 L1067.95 530.70 L1071.07 533.47 L1074.20 536.24 L1077.32 539.01 L1080.44 541.76" stroke="#D95319"/>
<path d="M459.00 415.01 L462.12 414.77 L465.25 414.52 L468.37 414.27 L471.49 414.02 L474.61 413.76 L477.74 413.50 L480.86 413.24 L483.98 412.97 L487.11 412.70 L490.23 412.43 L493.35 412.15 L496.47 411.87 L499.60 411.59 L502.72 411.30 L505.84 411.01 L508.97 410.72 L512.09 410.42 L515.21 410.12 L518.33 409.82 L521.46 409.51 L524.58 409.20 L527.70 408.88 L530.82 408.56 L533.95 408.24 L537.07 407.91 L540.19 407.58 L543.32 407.25 L546.44 406.91 L549.56 406.57 L552.68 406.22 L555.81 405.87 L558.93 405.52 L562.05 405.16 L565.18 404.80 L568.30 404.44 L571.42 404.07 L574.54 403.70 L577.67 403.32 L580.79 402.94 L583.91 402.55 L587.04 402.16 L590.16 401.77 L593.28 401.38 L596.40 400.98 L599.53 400.57 L602.65 400.16 L605.77 399.75 L608.90 399.34 L612.02 398.92 L615.14 398.50 L618.26 398.07 L621.39 397.64 L624.51 397.21 L627.63 396.78 L630.76 396.34 L633.88 395.90 L637.00 395.45 L640.12 395.01 L643.25 394.56 L646.37 394.10 L649.49 393.65 L652.61 393.19 L655.74 392.74 L658.86 392.28 L661.98 391.82 L665.11 391.35 L668.23 390.89 L671.35 390.43 L674.47 389.96 L677.60 389.50 L680.72 389.03 L683.84 388.57 L686.97 388.11 L690.09 387.65 L693.21 387.19 L696.33 386.74 L699.46 386.28 L702.58 385.83 L705.70 385.39 L708.83 384.95 L711.95 384.51 L715.07 384.09 L718.19 383.66 L721.32 383.25 L724.44 382.84 L727.56 382.44 L730.69 382.05 L733.81 381.68 L736.93 381.31 L740.05 380.96 L743.18 380.62 L746.30 380.29 L749.42 379.98 L752.55 379.69 L755.67 379.42 L758.79 379.16 L761.91 378.93 L765.04 378.72 L768.16 378.53 L771.28 378.36 L774.40 378.22 L777.53 378.11 L780.65 378.03 L783.77 377.97 L786.90 377.95 L790.02 377.96 L793.14 378.01 L796.26 378.09 L799.39 378.21 L802.51 378.37 L805.63 378.57 L808.76 378.81 L811.88 379.10 L815.00 379.43 L818.12 379.80 L821.25 380.23 L824.37 380.70 L827.49 381.22 L830.62 381.79 L833.74 382.41 L836.86 383.09 L839.98 383.82 L843.11 384.60 L846.23 385.44 L849.35 386.33 L852.48 387.28 L855.60 388.28 L858.72 389.34 L861.84 390.46 L864.97 391.63 L868.09 392.85 L871.21 394.13 L874.34 395.47 L877.46 396.86 L880.58 398.30 L883.70 399.79 L886.83 401.34 L889.95 402.94 L893.07 404.58 L896.19 406.28 L899.32 408.02 L902.44 409.81 L905.56 411.64 L908.69 413.51 L911.81 415.43 L914.93 417.39 L918.05 419.39 L921.18 421.42 L924.30 423.49 L927.42 425.60 L930.55 427.74 L933.67 429.91 L936.79 432.11 L939.91 434.33 L943.04 436.59 L946.16 438.87 L949.28 441.18 L952.41 443.51 L955.53 445.87 L958.65 448.24 L961.77 450.63 L964.90 453.04 L968.02 455.47 L971.14 457.92 L974.27 460.38 L977.39 462.85 L980.51 465.34 L983.63 467.84 L986.76 470.35 L989.88 472.87 L993.00 475.40 L996.13 477.94 L999.25 480.49 L1002.37 483.04 L1005.49 485.60 L1008.62 488.17 L1011.74 490.75 L1014.86 493.32 L1017.98 495.91 L1021.11 498.49 L1024.23 501.08 L1027.35 503.68 L1030.48 506.27 L1033.60 508.87 L1036.72 511.47 L1039.84 514.07 L1042.97 516.67 L1046.09 519.27 L1049.21 521.87 L1052.34 524.48 L1055.46 527.08 L1058.58 529.68 L1061.70 532.29 L1064.83 534.89 L1067.95 537.49 L1071.07 540.09 L1074.20 542.69 L1077.32 545.28 L1080.44 547.88" stroke="#EDB120"/>
<path d="M459.00 425.38 L462.12 425.20 L465.25 425.03 L468.37 424.85 L471.49 424.67 L474.61 424.49 L477.74 424.30 L480.86 424.12 L483.98 423.93 L487.11 423.74 L490.23 423.55 L493.35 423.36 L496.47 423.16 L499.60 422.97 L502.72 422.77 L505.84 422.57 L508.97 422.36 L512.09 422.16 L515.21 421.95 L518.33 421.74 L521.46 421.53 L524.58 421.32 L527.70 421.11 L530.82 420.89 L533.95 420.67 L537.07 420.45 L540.19 420.23 L543.32 420.01 L546.44 419.78 L549.56 419.56 L552.68 419.33 L555.81 419.10 L558.93 418.87 L562.05 418.63 L565.18 418.40 L568.30 418.16 L571.42 417.92 L574.54 417.68 L577.67 417.44 L580.79 417.20 L583.91 416.95 L587.04 416.71 L590.16 416.46 L593.28 416.21 L596.40 415.96 L599.53 415.71 L602.65 415.46 L605.77 415.21 L608.90 414.96 L612.02 414.71 L615.14 414.45 L618.26 414.20 L621.39 413.94 L624.51 413.69 L627.63 413.43 L630.76 413.18 L633.88 412.93 L637.00 412.67 L640.12 412.42 L643.25 412.17 L646.37 411.91 L649.49 411.66 L652.61 411.41 L655.74 411.17 L658.86 410.92 L661.98 410.68 L665.11 410.43 L668.23 410.19 L671.35 409.96 L674.47 409.72 L677.60 409.49 L680.72 409.27 L683.84 409.04 L686.97 408.82 L690.09 408.61 L693.21 408.40 L696.33 408.20 L699.46 408.00 L702.58 407.81 L705.70 407.62 L708.83 407.44 L711.95 407.27 L715.07 407.11 L718.19 406.95 L721.32 406.81 L724.44 406.67 L727.56 406.55 L730.69 406.43 L733.81 406.33 L736.93 406.23 L740.05 406.15 L743.18 406.09 L746.30 406.03 L749.42 405.99 L752.55 405.97 L755.67 405.96 L758.79 405.97 L761.91 406.00 L765.04 406.04 L768.16 406.10 L771.28 406.19 L774.40 406.29 L777.53 406.41 L780.65 406.56 L783.77 406.73 L786.90 406.92 L790.02 407.13 L793.14 407.38 L796.26 407.64 L799.39 407.94 L802.51 408.26 L805.63 408.61 L808.76 408.99 L811.88 409.40 L815.00 409.83 L818.12 410.30 L821.25 410.81 L824.37 411.34 L827.49 411.91 L830.62 412.51 L833.74 413.15 L836.86 413.82 L839.98 414.53 L843.11 415.27 L846.23 416.05 L849.35 416.87 L852.48 417.72 L855.60 418.62 L858.72 419.54 L861.84 420.51 L864.97 421.52 L868.09 422.56 L871.21 423.64 L874.34 424.76 L877.46 425.92 L880.58 427.11 L883.70 428.35 L886.83 429.62 L889.95 430.92 L893.07 432.27 L896.19 433.65 L899.32 435.07 L902.44 436.52 L905.56 438.01 L908.69 439.53 L911.81 441.09 L914.93 442.68 L918.05 444.30 L921.18 445.96 L924.30 447.64 L927.42 449.36 L930.55 451.11 L933.67 452.89 L936.79 454.69 L939.91 456.53 L943.04 458.39 L946.16 460.27 L949.28 462.19 L952.41 464.12 L955.53 466.09 L958.65 468.07 L961.77 470.08 L964.90 472.11 L968.02 474.15 L971.14 476.22 L974.27 478.31 L977.39 480.42 L980.51 482.55 L983.63 484.69 L986.76 486.85 L989.88 489.02 L993.00 491.21 L996.13 493.42 L999.25 495.63 L1002.37 497.86 L1005.49 500.11 L1008.62 502.36 L1011.74 504.63 L1014.86 506.91 L1017.98 509.20 L1021.11 511.49 L1024.23 513.80 L1027.35 516.12 L1030.48 518.44 L1033.60 520.78 L1036.72 523.12 L1039.84 525.46 L1042.97 527.82 L1046.09 530.18 L1049.21 532.54 L1052.34 534.92 L1055.46 537.29 L1058.58 539.68 L1061.70 542.06 L1064.83 544.45 L1067.95 546.85 L1071.07 549.25 L1074.20 551.65 L1077.32 554.06 L1080.44 556.47" stroke="#7E2F8E"/>
<path d="M459.00 435.53 L462.12 435.42 L465.25 435.31 L468.37 435.19 L471.49 435.08 L474.61 434.96 L477.74 434.85 L480.86 434.73 L483.98 434.61 L487.11 434.49 L490.23 434.38 L493.35 434.26 L496.47 434.13 L499.60 434.01 L502.72 433.89 L505.84 433.77 L508.97 433.65 L512.09 433.52 L515.21 433.40 L518.33 433.27 L521.46 433.15 L524.58 433.02 L527.70 432.89 L530.82 432.77 L533.95 432.64 L537.07 432.51 L540.19 432.38 L543.32 432.25 L546.44 432.12 L549.56 432.00 L552.68 431.87 L555.81 431.74 L558.93 431.61 L562.05 431.48 L565.18 431.35 L568.30 431.22 L571.42 431.09 L574.54 430.96 L577.67 430.83 L580.79 430.70 L583.91 430.57 L587.04 430.45 L590.16 430.32 L593.28 430.19 L596.40 430.07 L599.53 429.94 L602.65 429.82 L605.77 429.70 L608.90 429.57 L612.02 429.45 L615.14 429.34 L618.26 429.22 L621.39 429.10 L624.51 428.99 L627.63 428.88 L630.76 428.77 L633.88 428.66 L637.00 428.55 L640.12 428.45 L643.25 428.35 L646.37 428.25 L649.49 428.16 L652.61 428.07 L655.74 427.98 L658.86 427.89 L661.98 427.81 L665.11 427.74 L668.23 427.66 L671.35 427.59 L674.47 427.53 L677.60 427.47 L680.72 427.42 L683.84 427.37 L686.97 427.33 L690.09 427.29 L693.21 427.26 L696.33 427.24 L699.46 427.22 L702.58 427.21 L705.70 427.21 L708.83 427.22 L711.95 427.23 L715.07 427.26 L718.19 427.29 L721.32 427.33 L724.44 427.38 L727.56 427.44 L730.69 427.51 L733.81 427.59 L736.93 427.69 L740.05 427.79 L743.18 427.91 L746.30 428.04 L749.42 428.18 L752.55 428.33 L755.67 428.50 L758.79 428.69 L761.91 428.88 L765.04 429.10 L768.16 429.33 L771.28 429.57 L774.40 429.83 L777.53 430.11 L780.65 430.41 L783.77 430.73 L786.90 431.06 L790.02 431.41 L793.14 431.79 L796.26 432.18 L799.39 432.59 L802.51 433.02 L805.63 433.48 L808.76 433.96 L811.88 434.46 L815.00 434.98 L818.12 435.53 L821.25 436.10 L824.37 436.69 L827.49 437.31 L830.62 437.95 L833.74 438.62 L836.86 439.31 L839.98 440.03 L843.11 440.78 L846.23 441.55 L849.35 442.35 L852.48 443.18 L855.60 444.03 L858.72 444.91 L861.84 445.82 L864.97 446.76 L868.09 447.72 L871.21 448.72 L874.34 449.74 L877.46 450.78 L880.58 451.86 L883.70 452.97 L886.83 454.10 L889.95 455.26 L893.07 456.45 L896.19 457.67 L899.32 458.91 L902.44 460.19 L905.56 461.49 L908.69 462.81 L911.81 464.17 L914.93 465.55 L918.05 466.95 L921.18 468.39 L924.30 469.85 L927.42 471.33 L930.55 472.84 L933.67 474.38 L936.79 475.94 L939.91 477.52 L943.04 479.13 L946.16 480.76 L949.28 482.41 L952.41 484.09 L955.53 485.78 L958.65 487.50 L961.77 489.24 L964.90 491.01 L968.02 492.79 L971.14 494.59 L974.27 496.41 L977.39 498.25 L980.51 500.10 L983.63 501.98 L986.76 503.87 L989.88 505.78 L993.00 507.70 L996.13 509.64 L999.25 511.60 L1002.37 513.57 L1005.49 515.56 L1008.62 517.56 L1011.74 519.58 L1014.86 521.60 L1017.98 523.64 L1021.11 525.70 L1024.23 527.76 L1027.35 529.84 L1030.48 531.93 L1033.60 534.03 L1036.72 536.14 L1039.84 538.26 L1042.97 540.39 L1046.09 542.53 L1049.21 544.67 L1052.34 546.83 L1055.46 549.00 L1058.58 551.17 L1061.70 553.35 L1064.83 555.54 L1067.95 557.74 L1071.07 559.95 L1074.20 562.16 L1077.32 564.37 L1080.44 566.60" stroke="#77AC30"/>
</g>
<line x1="471.49" y1="683.95" x2="471.49" y2="1172.00" stroke="#000" stroke-opacity="0.37" stroke-width="3.8" stroke-dasharray="4.4 8.54"/>
<line x1="596.66" y1="683.95" x2="596.66" y2="1172.00" stroke="#000" stroke-opacity="0.37" stroke-width="3.8" stroke-dasharray="4.4 8.54"/>
<line x1="685.47" y1="683.95" x2="685.47" y2="1172.00" stroke="#000" stroke-opacity="0.37" stroke-width="3.8" stroke-dasharray="4.4 8.54"/>
<line x1="754.36" y1="683.95" x2="754.36" y2="1172.00" stroke="#000" stroke-opacity="0.37" stroke-width="3.8" stroke-dasharray="4.4 8.54"/>
<line x1="810.65" y1="683.95" x2="810.65" y2="1172.00" stroke="#000" stroke-opacity="0.37" stroke-width="3.8" stroke-dasharray="4.4 8.54"/>
<line x1="858.24" y1="683.95" x2="858.24" y2="1172.00" stroke="#000" stroke-opacity="0.37" stroke-width="3.8" stroke-dasharray="4.4 8.54"/>
<line x1="899.46" y1="683.95" x2="899.46" y2="1172.00" stroke="#000" stroke-opacity="0.37" stroke-width="3.8" stroke-dasharray="4.4 8.54"/>
<line x1="935.82" y1="683.95" x2="935.82" y2="1172.00" stroke="#000" stroke-opacity="0.37" stroke-width="3.8" stroke-dasharray="4.4 8.54"/>
<line x1="1182.34" y1="683.95" x2="1182.34" y2="1172.00" stroke="#000" stroke-opacity="0.37" stroke-width="3.8" stroke-dasharray="4.4 8.54"/>
<line x1="1307.51" y1="683.95" x2="1307.51" y2="1172.00" stroke="#000" stroke-opacity="0.37" stroke-width="3.8" stroke-dasharray="4.4 8.54"/>
<line x1="1396.32" y1="683.95" x2="1396.32" y2="1172.00" stroke="#000" stroke-opacity="0.37" stroke-width="3.8" stroke-dasharray="4.4 8.54"/>
<line x1="1465.21" y1="683.95" x2="1465.21" y2="1172.00" stroke="#000" stroke-opacity="0.37" stroke-width="3.8" stroke-dasharray="4.4 8.54"/>
<line x1="1521.50" y1="683.95" x2="1521.50" y2="1172.00" stroke="#000" stroke-opacity="0.37" stroke-width="3.8" stroke-dasharray="4.4 8.54"/>
<line x1="1569.09" y1="683.95" x2="1569.09" y2="1172.00" stroke="#000" stroke-opacity="0.37" stroke-width="3.8" stroke-dasharray="4.4 8.54"/>
<line x1="1610.31" y1="683.95" x2="1610.31" y2="1172.00" stroke="#000" stroke-opacity="0.37" stroke-width="3.8" stroke-dasharray="4.4 8.54"/>
<line x1="1646.67" y1="683.95" x2="1646.67" y2="1172.00" stroke="#000" stroke-opacity="0.37" stroke-width="3.8" stroke-dasharray="4.4 8.54"/>
<line x1="968.35" y1="665.55" x2="968.35" y2="1180.00" stroke="#262626" stroke-opacity="0.585" stroke-width="3.6"/>
<line x1="257.50" y1="670.25" x2="1679.20" y2="670.25" stroke="#262626" stroke-opacity="0.585" stroke-width="4.5"/>
<line x1="257.50" y1="838.88" x2="1679.20" y2="838.88" stroke="#262626" stroke-opacity="0.585" stroke-width="3.9"/>
<line x1="257.50" y1="1006.95" x2="1679.20" y2="1006.95" stroke="#262626" stroke-opacity="0.585" stroke-width="3.9"/>
<line x1="257.50" y1="1175.02" x2="1679.20" y2="1175.02" stroke="#262626" stroke-opacity="0.585" stroke-width="3.9"/>
<line x1="258.50" y1="670.25" x2="272.00" y2="670.25" stroke="#666666" stroke-width="3.6999999999999997" stroke-linecap="round"/>
<line x1="1678.20" y1="670.25" x2="1664.70" y2="670.25" stroke="#666666" stroke-width="3.6999999999999997" stroke-linecap="round"/>
<line x1="258.50" y1="838.88" x2="272.00" y2="838.88" stroke="#666666" stroke-width="3.6999999999999997" stroke-linecap="round"/>
<line x1="1678.20" y1="838.88" x2="1664.70" y2="838.88" stroke="#666666" stroke-width="3.6999999999999997" stroke-linecap="round"/>
<line x1="258.50" y1="1006.95" x2="272.00" y2="1006.95" stroke="#666666" stroke-width="3.6999999999999997" stroke-linecap="round"/>
<line x1="1678.20" y1="1006.95" x2="1664.70" y2="1006.95" stroke="#666666" stroke-width="3.6999999999999997" stroke-linecap="round"/>
<line x1="258.50" y1="1175.02" x2="272.00" y2="1175.02" stroke="#666666" stroke-width="3.6999999999999997" stroke-linecap="round"/>
<line x1="1678.20" y1="1175.02" x2="1664.70" y2="1175.02" stroke="#666666" stroke-width="3.6999999999999997" stroke-linecap="round"/>
<line x1="471.49" y1="666.15" x2="471.49" y2="672.45" stroke="#666666" stroke-width="4.4" stroke-linecap="round"/>
<line x1="471.49" y1="1179.40" x2="471.49" y2="1173.10" stroke="#666666" stroke-width="4.4" stroke-linecap="round"/>
<line x1="596.66" y1="666.15" x2="596.66" y2="672.45" stroke="#666666" stroke-width="4.4" stroke-linecap="round"/>
<line x1="596.66" y1="1179.40" x2="596.66" y2="1173.10" stroke="#666666" stroke-width="4.4" stroke-linecap="round"/>
<line x1="685.47" y1="666.15" x2="685.47" y2="672.45" stroke="#666666" stroke-width="4.4" stroke-linecap="round"/>
<line x1="685.47" y1="1179.40" x2="685.47" y2="1173.10" stroke="#666666" stroke-width="4.4" stroke-linecap="round"/>
<line x1="754.36" y1="666.15" x2="754.36" y2="672.45" stroke="#666666" stroke-width="4.4" stroke-linecap="round"/>
<line x1="754.36" y1="1179.40" x2="754.36" y2="1173.10" stroke="#666666" stroke-width="4.4" stroke-linecap="round"/>
<line x1="810.65" y1="666.15" x2="810.65" y2="672.45" stroke="#666666" stroke-width="4.4" stroke-linecap="round"/>
<line x1="810.65" y1="1179.40" x2="810.65" y2="1173.10" stroke="#666666" stroke-width="4.4" stroke-linecap="round"/>
<line x1="858.24" y1="666.15" x2="858.24" y2="672.45" stroke="#666666" stroke-width="4.4" stroke-linecap="round"/>
<line x1="858.24" y1="1179.40" x2="858.24" y2="1173.10" stroke="#666666" stroke-width="4.4" stroke-linecap="round"/>
<line x1="899.46" y1="666.15" x2="899.46" y2="672.45" stroke="#666666" stroke-width="4.4" stroke-linecap="round"/>
<line x1="899.46" y1="1179.40" x2="899.46" y2="1173.10" stroke="#666666" stroke-width="4.4" stroke-linecap="round"/>
<line x1="935.82" y1="666.15" x2="935.82" y2="672.45" stroke="#666666" stroke-width="4.4" stroke-linecap="round"/>
<line x1="935.82" y1="1179.40" x2="935.82" y2="1173.10" stroke="#666666" stroke-width="4.4" stroke-linecap="round"/>
<line x1="1182.34" y1="666.15" x2="1182.34" y2="672.45" stroke="#666666" stroke-width="4.4" stroke-linecap="round"/>
<line x1="1182.34" y1="1179.40" x2="1182.34" y2="1173.10" stroke="#666666" stroke-width="4.4" stroke-linecap="round"/>
<line x1="1307.51" y1="666.15" x2="1307.51" y2="672.45" stroke="#666666" stroke-width="4.4" stroke-linecap="round"/>
<line x1="1307.51" y1="1179.40" x2="1307.51" y2="1173.10" stroke="#666666" stroke-width="4.4" stroke-linecap="round"/>
<line x1="1396.32" y1="666.15" x2="1396.32" y2="672.45" stroke="#666666" stroke-width="4.4" stroke-linecap="round"/>
<line x1="1396.32" y1="1179.40" x2="1396.32" y2="1173.10" stroke="#666666" stroke-width="4.4" stroke-linecap="round"/>
<line x1="1465.21" y1="666.15" x2="1465.21" y2="672.45" stroke="#666666" stroke-width="4.4" stroke-linecap="round"/>
<line x1="1465.21" y1="1179.40" x2="1465.21" y2="1173.10" stroke="#666666" stroke-width="4.4" stroke-linecap="round"/>
<line x1="1521.50" y1="666.15" x2="1521.50" y2="672.45" stroke="#666666" stroke-width="4.4" stroke-linecap="round"/>
<line x1="1521.50" y1="1179.40" x2="1521.50" y2="1173.10" stroke="#666666" stroke-width="4.4" stroke-linecap="round"/>
<line x1="1569.09" y1="666.15" x2="1569.09" y2="672.45" stroke="#666666" stroke-width="4.4" stroke-linecap="round"/>
<line x1="1569.09" y1="1179.40" x2="1569.09" y2="1173.10" stroke="#666666" stroke-width="4.4" stroke-linecap="round"/>
<line x1="1610.31" y1="666.15" x2="1610.31" y2="672.45" stroke="#666666" stroke-width="4.4" stroke-linecap="round"/>
<line x1="1610.31" y1="1179.40" x2="1610.31" y2="1173.10" stroke="#666666" stroke-width="4.4" stroke-linecap="round"/>
<line x1="1646.67" y1="666.15" x2="1646.67" y2="672.45" stroke="#666666" stroke-width="4.4" stroke-linecap="round"/>
<line x1="1646.67" y1="1179.40" x2="1646.67" y2="1173.10" stroke="#666666" stroke-width="4.4" stroke-linecap="round"/>
<line x1="968.35" y1="666.55" x2="968.35" y2="680.65" stroke="#666666" stroke-width="3.8" stroke-linecap="round"/>
<line x1="968.35" y1="1179.00" x2="968.35" y2="1164.90" stroke="#666666" stroke-width="3.8" stroke-linecap="round"/>
<rect x="257.50" y="665.55" width="1421.70" height="514.45" fill="none" stroke="#666666" stroke-width="3.9" stroke-linejoin="round"/>
<line x1="257.50" y1="665.55" x2="257.50" y2="1180.00" stroke="#666666" stroke-width="5"/>
<line x1="257.50" y1="665.55" x2="1679.20" y2="665.55" stroke="#666666" stroke-width="4.9"/>
<path d="M860.2 750.1 C845 736 810 735 770 748 C725 763 680 790 640 822" fill="none" stroke="#000" stroke-width="4.4" stroke-linecap="round"/>
<polygon points="618.5,836.6 632.8,802.9 640.5,818.4 654.3,828.9" fill="#000"/>
<g clip-path="url(#cb)" fill="none" stroke-width="4.5" stroke-linejoin="round" stroke-linecap="square">
<path d="M257.50 686.63 L261.06 686.81 L264.63 687.00 L268.19 687.19 L271.75 687.39 L275.32 687.58 L278.88 687.78 L282.44 687.98 L286.01 688.18 L289.57 688.39 L293.13 688.60 L296.69 688.81 L300.26 689.02 L303.82 689.24 L307.38 689.46 L310.95 689.68 L314.51 689.90 L318.07 690.13 L321.64 690.36 L325.20 690.59 L328.76 690.83 L332.33 691.06 L335.89 691.31 L339.45 691.55 L343.02 691.80 L346.58 692.05 L350.14 692.30 L353.71 692.56 L357.27 692.82 L360.83 693.08 L364.39 693.35 L367.96 693.62 L371.52 693.89 L375.08 694.17 L378.65 694.45 L382.21 694.74 L385.77 695.02 L389.34 695.32 L392.90 695.61 L396.46 695.91 L400.03 696.21 L403.59 696.52 L407.15 696.83 L410.72 697.15 L414.28 697.47 L417.84 697.79 L421.41 698.12 L424.97 698.45 L428.53 698.79 L432.09 699.13 L435.66 699.48 L439.22 699.83 L442.78 700.19 L446.35 700.55 L449.91 700.91 L453.47 701.29 L457.04 701.66 L460.60 702.04 L464.16 702.43 L467.73 702.82 L471.29 703.22 L474.85 703.63 L478.42 704.03 L481.98 704.45 L485.54 704.87 L489.11 705.30 L492.67 705.73 L496.23 706.17 L499.79 706.62 L503.36 707.08 L506.92 707.54 L510.48 708.00 L514.05 708.48 L517.61 708.96 L521.17 709.45 L524.74 709.95 L528.30 710.46 L531.86 710.97 L535.43 711.49 L538.99 712.02 L542.55 712.56 L546.12 713.11 L549.68 713.67 L553.24 714.24 L556.81 714.82 L560.37 715.41 L563.93 716.00 L567.49 716.61 L571.06 717.23 L574.62 717.86 L578.18 718.51 L581.75 719.16 L585.31 719.83 L588.87 720.51 L592.44 721.20 L596.00 721.91 L599.56 722.63 L603.13 723.37 L606.69 724.12 L610.25 724.89 L613.82 725.68 L617.38 726.48 L620.94 727.30 L624.51 728.14 L628.07 729.00 L631.63 729.88 L635.19 730.78 L638.76 731.70 L642.32 732.65 L645.88 733.62 L649.45 734.62 L653.01 735.64 L656.57 736.69 L660.14 737.77 L663.70 738.88 L667.26 740.03 L670.83 741.21 L674.39 742.43 L677.95 743.68 L681.52 744.98 L685.08 746.32 L688.64 747.71 L692.21 749.14 L695.77 750.63 L699.33 752.18 L702.89 753.79 L706.46 755.45 L710.02 757.19 L713.58 759.01 L717.15 760.90 L720.71 762.87 L724.27 764.94 L727.84 767.11 L731.40 769.38 L734.96 771.77 L738.53 774.29 L742.09 776.94 L745.65 779.73 L749.22 782.69 L752.78 785.82 L756.34 789.14 L759.91 792.65 L763.47 796.39 L767.03 800.37 L770.59 804.60 L774.16 809.11 L777.72 813.91 L781.28 819.02 L784.85 824.46 L788.41 830.24 L791.97 836.36 L795.54 842.83 L799.10 849.65 L802.66 856.79 L806.23 864.22 L809.79 871.92 L813.35 879.82 L816.92 887.86 L820.48 895.97 L824.04 904.08 L827.61 912.12 L831.17 920.00 L834.73 927.68 L838.29 935.11 L841.86 942.23 L845.42 949.04 L848.98 955.51 L852.55 961.63 L856.11 967.41 L859.67 972.86 L863.24 978.00 L866.80 982.83 L870.36 987.38 L873.93 991.66 L877.49 995.69 L881.05 999.49 L884.62 1003.09 L888.18 1006.49 L891.74 1009.70 L895.31 1012.76 L898.87 1015.66 L902.43 1018.42 L905.99 1021.05 L909.56 1023.57 L913.12 1025.97 L916.68 1028.28 L920.25 1030.49 L923.81 1032.62 L927.37 1034.67 L930.94 1036.64 L934.50 1038.55 L938.06 1040.39 L941.63 1042.18 L945.19 1043.90 L948.75 1045.58 L952.32 1047.21 L955.88 1048.80 L959.44 1050.34 L963.01 1051.85 L966.57 1053.32 L970.13 1054.75 L973.69 1056.15 L977.26 1057.52 L980.82 1058.86 L984.38 1060.17 L987.95 1061.46 L991.51 1062.72 L995.07 1063.96 L998.64 1065.18 L1002.20 1066.38 L1005.76 1067.55 L1009.33 1068.71 L1012.89 1069.85 L1016.45 1070.97 L1020.02 1072.08 L1023.58 1073.16 L1027.14 1074.24 L1030.71 1075.29 L1034.27 1076.34 L1037.83 1077.37 L1041.39 1078.38 L1044.96 1079.39 L1048.52 1080.38 L1052.08 1081.36 L1055.65 1082.33 L1059.21 1083.28 L1062.77 1084.23 L1066.34 1085.16 L1069.90 1086.09 L1073.46 1087.00 L1077.03 1087.90 L1080.59 1088.80 L1084.15 1089.68 L1087.72 1090.56 L1091.28 1091.43 L1094.84 1092.29 L1098.41 1093.14 L1101.97 1093.98 L1105.53 1094.81 L1109.09 1095.63 L1112.66 1096.45 L1116.22 1097.26 L1119.78 1098.06 L1123.35 1098.85 L1126.91 1099.64 L1130.47 1100.42 L1134.04 1101.19 L1137.60 1101.95 L1141.16 1102.71 L1144.73 1103.46 L1148.29 1104.20 L1151.85 1104.93 L1155.42 1105.66 L1158.98 1106.38 L1162.54 1107.10 L1166.11 1107.81 L1169.67 1108.51 L1173.23 1109.21 L1176.79 1109.89 L1180.36 1110.58 L1183.92 1111.25 L1187.48 1111.92 L1191.05 1112.59 L1194.61 1113.25 L1198.17 1113.90 L1201.74 1114.54 L1205.30 1115.18 L1208.86 1115.82 L1212.43 1116.44 L1215.99 1117.07 L1219.55 1117.68 L1223.12 1118.29 L1226.68 1118.90 L1230.24 1119.49 L1233.81 1120.09 L1237.37 1120.67 L1240.93 1121.26 L1244.49 1121.83 L1248.06 1122.40 L1251.62 1122.97 L1255.18 1123.53 L1258.75 1124.08 L1262.31 1124.63 L1265.87 1125.18 L1269.44 1125.71 L1273.00 1126.25 L1276.56 1126.78 L1280.13 1127.30 L1283.69 1127.82 L1287.25 1128.33 L1290.82 1128.84 L1294.38 1129.34 L1297.94 1129.84 L1301.51 1130.33 L1305.07 1130.82 L1308.63 1131.30 L1312.19 1131.78 L1315.76 1132.25 L1319.32 1132.72 L1322.88 1133.19 L1326.45 1133.65 L1330.01 1134.10 L1333.57 1134.55 L1337.14 1135.00 L1340.70 1135.44 L1344.26 1135.87 L1347.83 1136.30 L1351.39 1136.73 L1354.95 1137.16 L1358.52 1137.57 L1362.08 1137.99 L1365.64 1138.40 L1369.21 1138.81 L1372.77 1139.21 L1376.33 1139.60 L1379.89 1140.00 L1383.46 1140.39 L1387.02 1140.77 L1390.58 1141.15 L1394.15 1141.53 L1397.71 1141.90 L1401.27 1142.27 L1404.84 1142.64 L1408.40 1143.00 L1411.96 1143.36 L1415.53 1143.71 L1419.09 1144.06 L1422.65 1144.41 L1426.22 1144.75 L1429.78 1145.09 L1433.34 1145.43 L1436.91 1145.76 L1440.47 1146.09 L1444.03 1146.41 L1447.59 1146.73 L1451.16 1147.05 L1454.72 1147.36 L1458.28 1147.67 L1461.85 1147.98 L1465.41 1148.29 L1468.97 1148.59 L1472.54 1148.89 L1476.10 1149.18 L1479.66 1149.47 L1483.23 1149.76 L1486.79 1150.04 L1490.35 1150.33 L1493.92 1150.61 L1497.48 1150.88 L1501.04 1151.15 L1504.61 1151.42 L1508.17 1151.69 L1511.73 1151.95 L1515.29 1152.22 L1518.86 1152.47 L1522.42 1152.73 L1525.98 1152.98 L1529.55 1153.23 L1533.11 1153.48 L1536.67 1153.72 L1540.24 1153.96 L1543.80 1154.20 L1547.36 1154.44 L1550.93 1154.67 L1554.49 1154.90 L1558.05 1155.13 L1561.62 1155.36 L1565.18 1155.58 L1568.74 1155.80 L1572.31 1156.02 L1575.87 1156.24 L1579.43 1156.45 L1582.99 1156.66 L1586.56 1156.87 L1590.12 1157.08 L1593.68 1157.28 L1597.25 1157.48 L1600.81 1157.68 L1604.37 1157.88 L1607.94 1158.07 L1611.50 1158.27 L1615.06 1158.46 L1618.63 1158.65 L1622.19 1158.83 L1625.75 1159.02 L1629.32 1159.20 L1632.88 1159.38 L1636.44 1159.56 L1640.01 1159.73 L1643.57 1159.91 L1647.13 1160.08 L1650.69 1160.25 L1654.26 1160.42 L1657.82 1160.59 L1661.38 1160.75 L1664.95 1160.91 L1668.51 1161.08 L1672.07 1161.24 L1675.64 1161.39 L1679.20 1161.55" stroke="#0072BD"/>
<path d="M257.50 689.06 L261.06 689.27 L264.63 689.49 L268.19 689.71 L271.75 689.94 L275.32 690.16 L278.88 690.39 L282.44 690.62 L286.01 690.86 L289.57 691.10 L293.13 691.34 L296.69 691.58 L300.26 691.83 L303.82 692.08 L307.38 692.33 L310.95 692.59 L314.51 692.85 L318.07 693.11 L321.64 693.38 L325.20 693.65 L328.76 693.92 L332.33 694.20 L335.89 694.48 L339.45 694.76 L343.02 695.05 L346.58 695.34 L350.14 695.63 L353.71 695.93 L357.27 696.23 L360.83 696.54 L364.39 696.85 L367.96 697.16 L371.52 697.48 L375.08 697.80 L378.65 698.13 L382.21 698.46 L385.77 698.79 L389.34 699.13 L392.90 699.48 L396.46 699.83 L400.03 700.18 L403.59 700.54 L407.15 700.90 L410.72 701.27 L414.28 701.64 L417.84 702.02 L421.41 702.40 L424.97 702.79 L428.53 703.18 L432.09 703.58 L435.66 703.98 L439.22 704.39 L442.78 704.81 L446.35 705.23 L449.91 705.66 L453.47 706.09 L457.04 706.53 L460.60 706.98 L464.16 707.43 L467.73 707.89 L471.29 708.35 L474.85 708.83 L478.42 709.31 L481.98 709.79 L485.54 710.29 L489.11 710.79 L492.67 711.30 L496.23 711.81 L499.79 712.34 L503.36 712.87 L506.92 713.41 L510.48 713.96 L514.05 714.52 L517.61 715.08 L521.17 715.66 L524.74 716.24 L528.30 716.84 L531.86 717.44 L535.43 718.05 L538.99 718.68 L542.55 719.31 L546.12 719.96 L549.68 720.62 L553.24 721.28 L556.81 721.96 L560.37 722.66 L563.93 723.36 L567.49 724.08 L571.06 724.81 L574.62 725.55 L578.18 726.31 L581.75 727.08 L585.31 727.87 L588.87 728.67 L592.44 729.49 L596.00 730.32 L599.56 731.17 L603.13 732.04 L606.69 732.93 L610.25 733.83 L613.82 734.76 L617.38 735.70 L620.94 736.67 L624.51 737.65 L628.07 738.66 L631.63 739.69 L635.19 740.75 L638.76 741.83 L642.32 742.94 L645.88 744.08 L649.45 745.24 L653.01 746.43 L656.57 747.66 L660.14 748.92 L663.70 750.21 L667.26 751.53 L670.83 752.90 L674.39 754.30 L677.95 755.74 L681.52 757.23 L685.08 758.76 L688.64 760.34 L692.21 761.96 L695.77 763.64 L699.33 765.38 L702.89 767.17 L706.46 769.02 L710.02 770.94 L713.58 772.93 L717.15 774.98 L720.71 777.12 L724.27 779.33 L727.84 781.63 L731.40 784.01 L734.96 786.49 L738.53 789.07 L742.09 791.75 L745.65 794.54 L749.22 797.45 L752.78 800.48 L756.34 803.63 L759.91 806.92 L763.47 810.35 L767.03 813.92 L770.59 817.64 L774.16 821.52 L777.72 825.56 L781.28 829.75 L784.85 834.12 L788.41 838.64 L791.97 843.33 L795.54 848.18 L799.10 853.19 L802.66 858.34 L806.23 863.62 L809.79 869.03 L813.35 874.55 L816.92 880.15 L820.48 885.83 L824.04 891.54 L827.61 897.29 L831.17 903.03 L834.73 908.74 L838.29 914.41 L841.86 920.01 L845.42 925.52 L848.98 930.92 L852.55 936.20 L856.11 941.35 L859.67 946.36 L863.24 951.21 L866.80 955.91 L870.36 960.45 L873.93 964.83 L877.49 969.05 L881.05 973.12 L884.62 977.04 L888.18 980.81 L891.74 984.43 L895.31 987.92 L898.87 991.28 L902.43 994.51 L905.99 997.62 L909.56 1000.62 L913.12 1003.51 L916.68 1006.29 L920.25 1008.98 L923.81 1011.58 L927.37 1014.09 L930.94 1016.52 L934.50 1018.87 L938.06 1021.14 L941.63 1023.35 L945.19 1025.49 L948.75 1027.57 L952.32 1029.59 L955.88 1031.56 L959.44 1033.47 L963.01 1035.33 L966.57 1037.15 L970.13 1038.92 L973.69 1040.65 L977.26 1042.34 L980.82 1043.99 L984.38 1045.60 L987.95 1047.18 L991.51 1048.72 L995.07 1050.24 L998.64 1051.72 L1002.20 1053.18 L1005.76 1054.60 L1009.33 1056.00 L1012.89 1057.38 L1016.45 1058.73 L1020.02 1060.06 L1023.58 1061.37 L1027.14 1062.65 L1030.71 1063.92 L1034.27 1065.16 L1037.83 1066.39 L1041.39 1067.60 L1044.96 1068.79 L1048.52 1069.96 L1052.08 1071.11 L1055.65 1072.25 L1059.21 1073.38 L1062.77 1074.49 L1066.34 1075.58 L1069.90 1076.66 L1073.46 1077.73 L1077.03 1078.78 L1080.59 1079.82 L1084.15 1080.85 L1087.72 1081.86 L1091.28 1082.87 L1094.84 1083.86 L1098.41 1084.84 L1101.97 1085.81 L1105.53 1086.76 L1109.09 1087.71 L1112.66 1088.64 L1116.22 1089.57 L1119.78 1090.48 L1123.35 1091.39 L1126.91 1092.28 L1130.47 1093.17 L1134.04 1094.05 L1137.60 1094.91 L1141.16 1095.77 L1144.73 1096.62 L1148.29 1097.46 L1151.85 1098.29 L1155.42 1099.11 L1158.98 1099.93 L1162.54 1100.73 L1166.11 1101.53 L1169.67 1102.32 L1173.23 1103.10 L1176.79 1103.87 L1180.36 1104.64 L1183.92 1105.39 L1187.48 1106.14 L1191.05 1106.89 L1194.61 1107.62 L1198.17 1108.35 L1201.74 1109.07 L1205.30 1109.78 L1208.86 1110.49 L1212.43 1111.18 L1215.99 1111.88 L1219.55 1112.56 L1223.12 1113.24 L1226.68 1113.91 L1230.24 1114.57 L1233.81 1115.23 L1237.37 1115.88 L1240.93 1116.52 L1244.49 1117.16 L1248.06 1117.79 L1251.62 1118.41 L1255.18 1119.03 L1258.75 1119.64 L1262.31 1120.25 L1265.87 1120.85 L1269.44 1121.44 L1273.00 1122.03 L1276.56 1122.61 L1280.13 1123.19 L1283.69 1123.76 L1287.25 1124.32 L1290.82 1124.88 L1294.38 1125.43 L1297.94 1125.98 L1301.51 1126.52 L1305.07 1127.05 L1308.63 1127.58 L1312.19 1128.11 L1315.76 1128.63 L1319.32 1129.14 L1322.88 1129.65 L1326.45 1130.15 L1330.01 1130.65 L1333.57 1131.14 L1337.14 1131.63 L1340.70 1132.11 L1344.26 1132.59 L1347.83 1133.06 L1351.39 1133.53 L1354.95 1133.99 L1358.52 1134.44 L1362.08 1134.90 L1365.64 1135.34 L1369.21 1135.79 L1372.77 1136.23 L1376.33 1136.66 L1379.89 1137.09 L1383.46 1137.51 L1387.02 1137.93 L1390.58 1138.35 L1394.15 1138.76 L1397.71 1139.16 L1401.27 1139.57 L1404.84 1139.96 L1408.40 1140.36 L1411.96 1140.75 L1415.53 1141.13 L1419.09 1141.51 L1422.65 1141.89 L1426.22 1142.26 L1429.78 1142.63 L1433.34 1143.00 L1436.91 1143.36 L1440.47 1143.71 L1444.03 1144.07 L1447.59 1144.42 L1451.16 1144.76 L1454.72 1145.10 L1458.28 1145.44 L1461.85 1145.77 L1465.41 1146.10 L1468.97 1146.43 L1472.54 1146.75 L1476.10 1147.07 L1479.66 1147.39 L1483.23 1147.70 L1486.79 1148.01 L1490.35 1148.32 L1493.92 1148.62 L1497.48 1148.92 L1501.04 1149.21 L1504.61 1149.51 L1508.17 1149.80 L1511.73 1150.08 L1515.29 1150.37 L1518.86 1150.65 L1522.42 1150.92 L1525.98 1151.20 L1529.55 1151.47 L1533.11 1151.73 L1536.67 1152.00 L1540.24 1152.26 L1543.80 1152.52 L1547.36 1152.77 L1550.93 1153.03 L1554.49 1153.28 L1558.05 1153.52 L1561.62 1153.77 L1565.18 1154.01 L1568.74 1154.25 L1572.31 1154.49 L1575.87 1154.72 L1579.43 1154.95 L1582.99 1155.18 L1586.56 1155.41 L1590.12 1155.63 L1593.68 1155.85 L1597.25 1156.07 L1600.81 1156.29 L1604.37 1156.50 L1607.94 1156.71 L1611.50 1156.92 L1615.06 1157.13 L1618.63 1157.33 L1622.19 1157.53 L1625.75 1157.73 L1629.32 1157.93 L1632.88 1158.12 L1636.44 1158.32 L1640.01 1158.51 L1643.57 1158.70 L1647.13 1158.88 L1650.69 1159.07 L1654.26 1159.25 L1657.82 1159.43 L1661.38 1159.61 L1664.95 1159.78 L1668.51 1159.96 L1672.07 1160.13 L1675.64 1160.30 L1679.20 1160.47" stroke="#D95319"/>
<path d="M257.50 691.18 L261.06 691.42 L264.63 691.67 L268.19 691.91 L271.75 692.16 L275.32 692.42 L278.88 692.67 L282.44 692.93 L286.01 693.19 L289.57 693.46 L293.13 693.73 L296.69 694.00 L300.26 694.28 L303.82 694.56 L307.38 694.84 L310.95 695.13 L314.51 695.42 L318.07 695.71 L321.64 696.01 L325.20 696.31 L328.76 696.61 L332.33 696.92 L335.89 697.23 L339.45 697.55 L343.02 697.87 L346.58 698.20 L350.14 698.52 L353.71 698.86 L357.27 699.20 L360.83 699.54 L364.39 699.88 L367.96 700.23 L371.52 700.59 L375.08 700.95 L378.65 701.31 L382.21 701.68 L385.77 702.06 L389.34 702.44 L392.90 702.82 L396.46 703.21 L400.03 703.60 L403.59 704.00 L407.15 704.41 L410.72 704.82 L414.28 705.24 L417.84 705.66 L421.41 706.09 L424.97 706.52 L428.53 706.96 L432.09 707.40 L435.66 707.85 L439.22 708.31 L442.78 708.78 L446.35 709.25 L449.91 709.72 L453.47 710.21 L457.04 710.70 L460.60 711.20 L464.16 711.70 L467.73 712.21 L471.29 712.73 L474.85 713.26 L478.42 713.79 L481.98 714.34 L485.54 714.89 L489.11 715.45 L492.67 716.01 L496.23 716.59 L499.79 717.17 L503.36 717.77 L506.92 718.37 L510.48 718.98 L514.05 719.60 L517.61 720.23 L521.17 720.88 L524.74 721.53 L528.30 722.19 L531.86 722.86 L535.43 723.54 L538.99 724.24 L542.55 724.94 L546.12 725.66 L549.68 726.39 L553.24 727.13 L556.81 727.89 L560.37 728.66 L563.93 729.44 L567.49 730.23 L571.06 731.04 L574.62 731.86 L578.18 732.70 L581.75 733.56 L585.31 734.42 L588.87 735.31 L592.44 736.21 L596.00 737.13 L599.56 738.07 L603.13 739.02 L606.69 740.00 L610.25 740.99 L613.82 742.01 L617.38 743.04 L620.94 744.10 L624.51 745.18 L628.07 746.28 L631.63 747.40 L635.19 748.55 L638.76 749.72 L642.32 750.93 L645.88 752.15 L649.45 753.41 L653.01 754.69 L656.57 756.01 L660.14 757.36 L663.70 758.74 L667.26 760.15 L670.83 761.60 L674.39 763.09 L677.95 764.61 L681.52 766.17 L685.08 767.78 L688.64 769.43 L692.21 771.12 L695.77 772.86 L699.33 774.65 L702.89 776.49 L706.46 778.38 L710.02 780.32 L713.58 782.32 L717.15 784.39 L720.71 786.51 L724.27 788.70 L727.84 790.95 L731.40 793.28 L734.96 795.67 L738.53 798.15 L742.09 800.70 L745.65 803.33 L749.22 806.04 L752.78 808.84 L756.34 811.72 L759.91 814.70 L763.47 817.77 L767.03 820.94 L770.59 824.20 L774.16 827.56 L777.72 831.02 L781.28 834.59 L784.85 838.25 L788.41 842.01 L791.97 845.86 L795.54 849.82 L799.10 853.86 L802.66 857.99 L806.23 862.21 L809.79 866.50 L813.35 870.87 L816.92 875.30 L820.48 879.78 L824.04 884.30 L827.61 888.87 L831.17 893.45 L834.73 898.05 L838.29 902.65 L841.86 907.24 L845.42 911.82 L848.98 916.36 L852.55 920.86 L856.11 925.31 L859.67 929.71 L863.24 934.04 L866.80 938.29 L870.36 942.47 L873.93 946.57 L877.49 950.57 L881.05 954.49 L884.62 958.32 L888.18 962.05 L891.74 965.68 L895.31 969.23 L898.87 972.68 L902.43 976.03 L905.99 979.30 L909.56 982.47 L913.12 985.56 L916.68 988.56 L920.25 991.48 L923.81 994.31 L927.37 997.07 L930.94 999.76 L934.50 1002.37 L938.06 1004.91 L941.63 1007.39 L945.19 1009.80 L948.75 1012.14 L952.32 1014.43 L955.88 1016.66 L959.44 1018.84 L963.01 1020.96 L966.57 1023.04 L970.13 1025.06 L973.69 1027.04 L977.26 1028.97 L980.82 1030.86 L984.38 1032.71 L987.95 1034.52 L991.51 1036.30 L995.07 1038.04 L998.64 1039.74 L1002.20 1041.41 L1005.76 1043.05 L1009.33 1044.65 L1012.89 1046.23 L1016.45 1047.78 L1020.02 1049.30 L1023.58 1050.79 L1027.14 1052.26 L1030.71 1053.71 L1034.27 1055.13 L1037.83 1056.52 L1041.39 1057.90 L1044.96 1059.25 L1048.52 1060.58 L1052.08 1061.90 L1055.65 1063.19 L1059.21 1064.46 L1062.77 1065.72 L1066.34 1066.96 L1069.90 1068.18 L1073.46 1069.38 L1077.03 1070.57 L1080.59 1071.74 L1084.15 1072.90 L1087.72 1074.04 L1091.28 1075.17 L1094.84 1076.28 L1098.41 1077.37 L1101.97 1078.46 L1105.53 1079.53 L1109.09 1080.59 L1112.66 1081.63 L1116.22 1082.66 L1119.78 1083.68 L1123.35 1084.69 L1126.91 1085.68 L1130.47 1086.67 L1134.04 1087.64 L1137.60 1088.60 L1141.16 1089.55 L1144.73 1090.49 L1148.29 1091.42 L1151.85 1092.34 L1155.42 1093.25 L1158.98 1094.15 L1162.54 1095.03 L1166.11 1095.91 L1169.67 1096.78 L1173.23 1097.64 L1176.79 1098.49 L1180.36 1099.33 L1183.92 1100.16 L1187.48 1100.98 L1191.05 1101.80 L1194.61 1102.60 L1198.17 1103.40 L1201.74 1104.19 L1205.30 1104.97 L1208.86 1105.74 L1212.43 1106.50 L1215.99 1107.25 L1219.55 1108.00 L1223.12 1108.74 L1226.68 1109.47 L1230.24 1110.19 L1233.81 1110.91 L1237.37 1111.62 L1240.93 1112.32 L1244.49 1113.01 L1248.06 1113.70 L1251.62 1114.37 L1255.18 1115.04 L1258.75 1115.71 L1262.31 1116.37 L1265.87 1117.02 L1269.44 1117.66 L1273.00 1118.29 L1276.56 1118.92 L1280.13 1119.55 L1283.69 1120.16 L1287.25 1120.77 L1290.82 1121.38 L1294.38 1121.97 L1297.94 1122.56 L1301.51 1123.15 L1305.07 1123.73 L1308.63 1124.30 L1312.19 1124.86 L1315.76 1125.42 L1319.32 1125.98 L1322.88 1126.52 L1326.45 1127.07 L1330.01 1127.60 L1333.57 1128.13 L1337.14 1128.66 L1340.70 1129.18 L1344.26 1129.69 L1347.83 1130.20 L1351.39 1130.70 L1354.95 1131.20 L1358.52 1131.69 L1362.08 1132.17 L1365.64 1132.66 L1369.21 1133.13 L1372.77 1133.60 L1376.33 1134.07 L1379.89 1134.53 L1383.46 1134.98 L1387.02 1135.43 L1390.58 1135.88 L1394.15 1136.32 L1397.71 1136.76 L1401.27 1137.19 L1404.84 1137.62 L1408.40 1138.04 L1411.96 1138.45 L1415.53 1138.87 L1419.09 1139.28 L1422.65 1139.68 L1426.22 1140.08 L1429.78 1140.47 L1433.34 1140.86 L1436.91 1141.25 L1440.47 1141.63 L1444.03 1142.01 L1447.59 1142.38 L1451.16 1142.75 L1454.72 1143.12 L1458.28 1143.48 L1461.85 1143.84 L1465.41 1144.19 L1468.97 1144.54 L1472.54 1144.89 L1476.10 1145.23 L1479.66 1145.57 L1483.23 1145.90 L1486.79 1146.23 L1490.35 1146.56 L1493.92 1146.88 L1497.48 1147.20 L1501.04 1147.52 L1504.61 1147.83 L1508.17 1148.14 L1511.73 1148.44 L1515.29 1148.75 L1518.86 1149.04 L1522.42 1149.34 L1525.98 1149.63 L1529.55 1149.92 L1533.11 1150.21 L1536.67 1150.49 L1540.24 1150.77 L1543.80 1151.04 L1547.36 1151.32 L1550.93 1151.59 L1554.49 1151.86 L1558.05 1152.12 L1561.62 1152.38 L1565.18 1152.64 L1568.74 1152.89 L1572.31 1153.15 L1575.87 1153.40 L1579.43 1153.64 L1582.99 1153.89 L1586.56 1154.13 L1590.12 1154.37 L1593.68 1154.60 L1597.25 1154.83 L1600.81 1155.06 L1604.37 1155.29 L1607.94 1155.52 L1611.50 1155.74 L1615.06 1155.96 L1618.63 1156.18 L1622.19 1156.39 L1625.75 1156.61 L1629.32 1156.82 L1632.88 1157.02 L1636.44 1157.23 L1640.01 1157.43 L1643.57 1157.63 L1647.13 1157.83 L1650.69 1158.03 L1654.26 1158.22 L1657.82 1158.42 L1661.38 1158.61 L1664.95 1158.79 L1668.51 1158.98 L1672.07 1159.16 L1675.64 1159.34 L1679.20 1159.52" stroke="#EDB120"/>
<path d="M257.50 693.17 L261.06 693.44 L264.63 693.71 L268.19 693.98 L271.75 694.25 L275.32 694.53 L278.88 694.81 L282.44 695.10 L286.01 695.38 L289.57 695.68 L293.13 695.97 L296.69 696.27 L300.26 696.57 L303.82 696.88 L307.38 697.19 L310.95 697.50 L314.51 697.82 L318.07 698.14 L321.64 698.47 L325.20 698.80 L328.76 699.13 L332.33 699.47 L335.89 699.81 L339.45 700.16 L343.02 700.51 L346.58 700.87 L350.14 701.23 L353.71 701.60 L357.27 701.96 L360.83 702.34 L364.39 702.72 L367.96 703.10 L371.52 703.49 L375.08 703.89 L378.65 704.29 L382.21 704.69 L385.77 705.10 L389.34 705.52 L392.90 705.94 L396.46 706.36 L400.03 706.80 L403.59 707.23 L407.15 707.68 L410.72 708.13 L414.28 708.58 L417.84 709.04 L421.41 709.51 L424.97 709.98 L428.53 710.47 L432.09 710.95 L435.66 711.45 L439.22 711.95 L442.78 712.45 L446.35 712.97 L449.91 713.49 L453.47 714.02 L457.04 714.56 L460.60 715.10 L464.16 715.65 L467.73 716.21 L471.29 716.78 L474.85 717.35 L478.42 717.94 L481.98 718.53 L485.54 719.13 L489.11 719.74 L492.67 720.36 L496.23 720.98 L499.79 721.62 L503.36 722.27 L506.92 722.92 L510.48 723.59 L514.05 724.27 L517.61 724.95 L521.17 725.65 L524.74 726.36 L528.30 727.08 L531.86 727.81 L535.43 728.55 L538.99 729.30 L542.55 730.07 L546.12 730.84 L549.68 731.63 L553.24 732.44 L556.81 733.25 L560.37 734.08 L563.93 734.93 L567.49 735.79 L571.06 736.66 L574.62 737.55 L578.18 738.45 L581.75 739.37 L585.31 740.30 L588.87 741.26 L592.44 742.22 L596.00 743.21 L599.56 744.21 L603.13 745.24 L606.69 746.28 L610.25 747.34 L613.82 748.42 L617.38 749.52 L620.94 750.64 L624.51 751.79 L628.07 752.95 L631.63 754.14 L635.19 755.36 L638.76 756.60 L642.32 757.86 L645.88 759.15 L649.45 760.47 L653.01 761.81 L656.57 763.18 L660.14 764.59 L663.70 766.02 L667.26 767.48 L670.83 768.98 L674.39 770.51 L677.95 772.07 L681.52 773.68 L685.08 775.31 L688.64 776.99 L692.21 778.70 L695.77 780.46 L699.33 782.25 L702.89 784.09 L706.46 785.98 L710.02 787.91 L713.58 789.89 L717.15 791.91 L720.71 793.99 L724.27 796.12 L727.84 798.30 L731.40 800.54 L734.96 802.83 L738.53 805.18 L742.09 807.59 L745.65 810.06 L749.22 812.59 L752.78 815.18 L756.34 817.84 L759.91 820.56 L763.47 823.35 L767.03 826.21 L770.59 829.13 L774.16 832.12 L777.72 835.17 L781.28 838.30 L784.85 841.49 L788.41 844.74 L791.97 848.06 L795.54 851.45 L799.10 854.89 L802.66 858.39 L806.23 861.95 L809.79 865.56 L813.35 869.22 L816.92 872.92 L820.48 876.67 L824.04 880.45 L827.61 884.26 L831.17 888.09 L834.73 891.95 L838.29 895.82 L841.86 899.69 L845.42 903.57 L848.98 907.44 L852.55 911.31 L856.11 915.15 L859.67 918.98 L863.24 922.78 L866.80 926.54 L870.36 930.27 L873.93 933.96 L877.49 937.61 L881.05 941.20 L884.62 944.75 L888.18 948.24 L891.74 951.67 L895.31 955.05 L898.87 958.37 L902.43 961.62 L905.99 964.82 L909.56 967.95 L913.12 971.02 L916.68 974.03 L920.25 976.97 L923.81 979.86 L927.37 982.68 L930.94 985.44 L934.50 988.15 L938.06 990.80 L941.63 993.39 L945.19 995.92 L948.75 998.41 L952.32 1000.83 L955.88 1003.21 L959.44 1005.54 L963.01 1007.82 L966.57 1010.05 L970.13 1012.24 L973.69 1014.38 L977.26 1016.48 L980.82 1018.54 L984.38 1020.55 L987.95 1022.53 L991.51 1024.47 L995.07 1026.37 L998.64 1028.24 L1002.20 1030.08 L1005.76 1031.88 L1009.33 1033.64 L1012.89 1035.38 L1016.45 1037.09 L1020.02 1038.76 L1023.58 1040.41 L1027.14 1042.03 L1030.71 1043.63 L1034.27 1045.20 L1037.83 1046.74 L1041.39 1048.26 L1044.96 1049.76 L1048.52 1051.23 L1052.08 1052.68 L1055.65 1054.11 L1059.21 1055.52 L1062.77 1056.90 L1066.34 1058.27 L1069.90 1059.62 L1073.46 1060.95 L1077.03 1062.26 L1080.59 1063.55 L1084.15 1064.82 L1087.72 1066.08 L1091.28 1067.32 L1094.84 1068.54 L1098.41 1069.75 L1101.97 1070.94 L1105.53 1072.12 L1109.09 1073.28 L1112.66 1074.43 L1116.22 1075.56 L1119.78 1076.68 L1123.35 1077.79 L1126.91 1078.88 L1130.47 1079.96 L1134.04 1081.02 L1137.60 1082.08 L1141.16 1083.12 L1144.73 1084.15 L1148.29 1085.16 L1151.85 1086.17 L1155.42 1087.16 L1158.98 1088.14 L1162.54 1089.11 L1166.11 1090.07 L1169.67 1091.01 L1173.23 1091.95 L1176.79 1092.88 L1180.36 1093.79 L1183.92 1094.70 L1187.48 1095.59 L1191.05 1096.48 L1194.61 1097.35 L1198.17 1098.22 L1201.74 1099.07 L1205.30 1099.92 L1208.86 1100.76 L1212.43 1101.59 L1215.99 1102.40 L1219.55 1103.21 L1223.12 1104.01 L1226.68 1104.81 L1230.24 1105.59 L1233.81 1106.36 L1237.37 1107.13 L1240.93 1107.89 L1244.49 1108.64 L1248.06 1109.38 L1251.62 1110.11 L1255.18 1110.84 L1258.75 1111.55 L1262.31 1112.26 L1265.87 1112.96 L1269.44 1113.66 L1273.00 1114.35 L1276.56 1115.02 L1280.13 1115.70 L1283.69 1116.36 L1287.25 1117.02 L1290.82 1117.67 L1294.38 1118.31 L1297.94 1118.95 L1301.51 1119.58 L1305.07 1120.20 L1308.63 1120.81 L1312.19 1121.42 L1315.76 1122.02 L1319.32 1122.62 L1322.88 1123.21 L1326.45 1123.79 L1330.01 1124.37 L1333.57 1124.94 L1337.14 1125.50 L1340.70 1126.06 L1344.26 1126.61 L1347.83 1127.15 L1351.39 1127.69 L1354.95 1128.23 L1358.52 1128.76 L1362.08 1129.28 L1365.64 1129.79 L1369.21 1130.30 L1372.77 1130.81 L1376.33 1131.31 L1379.89 1131.80 L1383.46 1132.29 L1387.02 1132.77 L1390.58 1133.25 L1394.15 1133.72 L1397.71 1134.19 L1401.27 1134.65 L1404.84 1135.11 L1408.40 1135.56 L1411.96 1136.01 L1415.53 1136.45 L1419.09 1136.89 L1422.65 1137.32 L1426.22 1137.75 L1429.78 1138.17 L1433.34 1138.59 L1436.91 1139.00 L1440.47 1139.41 L1444.03 1139.81 L1447.59 1140.21 L1451.16 1140.61 L1454.72 1141.00 L1458.28 1141.39 L1461.85 1141.77 L1465.41 1142.15 L1468.97 1142.52 L1472.54 1142.89 L1476.10 1143.25 L1479.66 1143.61 L1483.23 1143.97 L1486.79 1144.33 L1490.35 1144.67 L1493.92 1145.02 L1497.48 1145.36 L1501.04 1145.70 L1504.61 1146.03 L1508.17 1146.36 L1511.73 1146.69 L1515.29 1147.01 L1518.86 1147.33 L1522.42 1147.65 L1525.98 1147.96 L1529.55 1148.27 L1533.11 1148.57 L1536.67 1148.87 L1540.24 1149.17 L1543.80 1149.47 L1547.36 1149.76 L1550.93 1150.05 L1554.49 1150.33 L1558.05 1150.61 L1561.62 1150.89 L1565.18 1151.17 L1568.74 1151.44 L1572.31 1151.71 L1575.87 1151.98 L1579.43 1152.24 L1582.99 1152.50 L1586.56 1152.76 L1590.12 1153.01 L1593.68 1153.26 L1597.25 1153.51 L1600.81 1153.76 L1604.37 1154.00 L1607.94 1154.24 L1611.50 1154.48 L1615.06 1154.71 L1618.63 1154.94 L1622.19 1155.17 L1625.75 1155.40 L1629.32 1155.62 L1632.88 1155.85 L1636.44 1156.07 L1640.01 1156.28 L1643.57 1156.50 L1647.13 1156.71 L1650.69 1156.92 L1654.26 1157.13 L1657.82 1157.33 L1661.38 1157.53 L1664.95 1157.73 L1668.51 1157.93 L1672.07 1158.13 L1675.64 1158.32 L1679.20 1158.51" stroke="#7E2F8E"/>
<path d="M257.50 694.94 L261.06 695.23 L264.63 695.51 L268.19 695.81 L271.75 696.10 L275.32 696.40 L278.88 696.70 L282.44 697.01 L286.01 697.32 L289.57 697.64 L293.13 697.95 L296.69 698.28 L300.26 698.60 L303.82 698.93 L307.38 699.27 L310.95 699.60 L314.51 699.95 L318.07 700.29 L321.64 700.64 L325.20 701.00 L328.76 701.36 L332.33 701.72 L335.89 702.09 L339.45 702.47 L343.02 702.84 L346.58 703.23 L350.14 703.62 L353.71 704.01 L357.27 704.41 L360.83 704.81 L364.39 705.22 L367.96 705.63 L371.52 706.05 L375.08 706.47 L378.65 706.90 L382.21 707.34 L385.77 707.78 L389.34 708.23 L392.90 708.68 L396.46 709.14 L400.03 709.60 L403.59 710.07 L407.15 710.55 L410.72 711.03 L414.28 711.52 L417.84 712.01 L421.41 712.52 L424.97 713.03 L428.53 713.54 L432.09 714.06 L435.66 714.59 L439.22 715.13 L442.78 715.67 L446.35 716.23 L449.91 716.78 L453.47 717.35 L457.04 717.93 L460.60 718.51 L464.16 719.10 L467.73 719.70 L471.29 720.30 L474.85 720.92 L478.42 721.54 L481.98 722.18 L485.54 722.82 L489.11 723.47 L492.67 724.13 L496.23 724.80 L499.79 725.48 L503.36 726.17 L506.92 726.87 L510.48 727.58 L514.05 728.30 L517.61 729.03 L521.17 729.78 L524.74 730.53 L528.30 731.29 L531.86 732.07 L535.43 732.86 L538.99 733.66 L542.55 734.47 L546.12 735.30 L549.68 736.13 L553.24 736.99 L556.81 737.85 L560.37 738.73 L563.93 739.62 L567.49 740.53 L571.06 741.45 L574.62 742.39 L578.18 743.34 L581.75 744.31 L585.31 745.29 L588.87 746.29 L592.44 747.31 L596.00 748.34 L599.56 749.39 L603.13 750.46 L606.69 751.55 L610.25 752.66 L613.82 753.79 L617.38 754.93 L620.94 756.10 L624.51 757.29 L628.07 758.50 L631.63 759.73 L635.19 760.99 L638.76 762.27 L642.32 763.57 L645.88 764.90 L649.45 766.25 L653.01 767.63 L656.57 769.03 L660.14 770.46 L663.70 771.92 L667.26 773.41 L670.83 774.92 L674.39 776.47 L677.95 778.05 L681.52 779.66 L685.08 781.30 L688.64 782.98 L692.21 784.69 L695.77 786.43 L699.33 788.21 L702.89 790.03 L706.46 791.88 L710.02 793.78 L713.58 795.71 L717.15 797.68 L720.71 799.70 L724.27 801.75 L727.84 803.85 L731.40 805.99 L734.96 808.18 L738.53 810.41 L742.09 812.69 L745.65 815.02 L749.22 817.39 L752.78 819.81 L756.34 822.28 L759.91 824.79 L763.47 827.36 L767.03 829.97 L770.59 832.63 L774.16 835.34 L777.72 838.10 L781.28 840.91 L784.85 843.77 L788.41 846.67 L791.97 849.62 L795.54 852.61 L799.10 855.64 L802.66 858.72 L806.23 861.84 L809.79 864.99 L813.35 868.18 L816.92 871.40 L820.48 874.66 L824.04 877.94 L827.61 881.24 L831.17 884.57 L834.73 887.92 L838.29 891.28 L841.86 894.65 L845.42 898.03 L848.98 901.41 L852.55 904.80 L856.11 908.18 L859.67 911.55 L863.24 914.92 L866.80 918.27 L870.36 921.61 L873.93 924.92 L877.49 928.21 L881.05 931.48 L884.62 934.72 L888.18 937.93 L891.74 941.10 L895.31 944.25 L898.87 947.35 L902.43 950.42 L905.99 953.44 L909.56 956.43 L913.12 959.37 L916.68 962.27 L920.25 965.13 L923.81 967.95 L927.37 970.72 L930.94 973.44 L934.50 976.13 L938.06 978.76 L941.63 981.36 L945.19 983.91 L948.75 986.42 L952.32 988.88 L955.88 991.31 L959.44 993.69 L963.01 996.03 L966.57 998.33 L970.13 1000.59 L973.69 1002.81 L977.26 1005.00 L980.82 1007.14 L984.38 1009.25 L987.95 1011.33 L991.51 1013.37 L995.07 1015.38 L998.64 1017.35 L1002.20 1019.29 L1005.76 1021.20 L1009.33 1023.08 L1012.89 1024.92 L1016.45 1026.74 L1020.02 1028.53 L1023.58 1030.29 L1027.14 1032.03 L1030.71 1033.73 L1034.27 1035.42 L1037.83 1037.07 L1041.39 1038.70 L1044.96 1040.31 L1048.52 1041.89 L1052.08 1043.46 L1055.65 1044.99 L1059.21 1046.51 L1062.77 1048.01 L1066.34 1049.48 L1069.90 1050.93 L1073.46 1052.37 L1077.03 1053.78 L1080.59 1055.18 L1084.15 1056.55 L1087.72 1057.91 L1091.28 1059.25 L1094.84 1060.58 L1098.41 1061.88 L1101.97 1063.17 L1105.53 1064.44 L1109.09 1065.70 L1112.66 1066.94 L1116.22 1068.17 L1119.78 1069.38 L1123.35 1070.57 L1126.91 1071.75 L1130.47 1072.92 L1134.04 1074.07 L1137.60 1075.21 L1141.16 1076.33 L1144.73 1077.45 L1148.29 1078.54 L1151.85 1079.63 L1155.42 1080.70 L1158.98 1081.76 L1162.54 1082.81 L1166.11 1083.84 L1169.67 1084.87 L1173.23 1085.88 L1176.79 1086.88 L1180.36 1087.87 L1183.92 1088.85 L1187.48 1089.81 L1191.05 1090.77 L1194.61 1091.71 L1198.17 1092.65 L1201.74 1093.57 L1205.30 1094.48 L1208.86 1095.38 L1212.43 1096.28 L1215.99 1097.16 L1219.55 1098.03 L1223.12 1098.90 L1226.68 1099.75 L1230.24 1100.59 L1233.81 1101.43 L1237.37 1102.25 L1240.93 1103.07 L1244.49 1103.88 L1248.06 1104.67 L1251.62 1105.46 L1255.18 1106.24 L1258.75 1107.02 L1262.31 1107.78 L1265.87 1108.54 L1269.44 1109.28 L1273.00 1110.02 L1276.56 1110.75 L1280.13 1111.47 L1283.69 1112.19 L1287.25 1112.89 L1290.82 1113.59 L1294.38 1114.28 L1297.94 1114.97 L1301.51 1115.64 L1305.07 1116.31 L1308.63 1116.97 L1312.19 1117.63 L1315.76 1118.28 L1319.32 1118.91 L1322.88 1119.55 L1326.45 1120.17 L1330.01 1120.79 L1333.57 1121.40 L1337.14 1122.01 L1340.70 1122.61 L1344.26 1123.20 L1347.83 1123.78 L1351.39 1124.36 L1354.95 1124.94 L1358.52 1125.50 L1362.08 1126.06 L1365.64 1126.62 L1369.21 1127.16 L1372.77 1127.71 L1376.33 1128.24 L1379.89 1128.77 L1383.46 1129.29 L1387.02 1129.81 L1390.58 1130.32 L1394.15 1130.83 L1397.71 1131.33 L1401.27 1131.83 L1404.84 1132.32 L1408.40 1132.80 L1411.96 1133.28 L1415.53 1133.75 L1419.09 1134.22 L1422.65 1134.69 L1426.22 1135.14 L1429.78 1135.60 L1433.34 1136.04 L1436.91 1136.49 L1440.47 1136.93 L1444.03 1137.36 L1447.59 1137.79 L1451.16 1138.21 L1454.72 1138.63 L1458.28 1139.04 L1461.85 1139.45 L1465.41 1139.86 L1468.97 1140.26 L1472.54 1140.65 L1476.10 1141.04 L1479.66 1141.43 L1483.23 1141.81 L1486.79 1142.19 L1490.35 1142.57 L1493.92 1142.93 L1497.48 1143.30 L1501.04 1143.66 L1504.61 1144.02 L1508.17 1144.37 L1511.73 1144.72 L1515.29 1145.07 L1518.86 1145.41 L1522.42 1145.75 L1525.98 1146.08 L1529.55 1146.41 L1533.11 1146.74 L1536.67 1147.06 L1540.24 1147.38 L1543.80 1147.70 L1547.36 1148.01 L1550.93 1148.32 L1554.49 1148.62 L1558.05 1148.92 L1561.62 1149.22 L1565.18 1149.52 L1568.74 1149.81 L1572.31 1150.09 L1575.87 1150.38 L1579.43 1150.66 L1582.99 1150.94 L1586.56 1151.21 L1590.12 1151.49 L1593.68 1151.76 L1597.25 1152.02 L1600.81 1152.28 L1604.37 1152.54 L1607.94 1152.80 L1611.50 1153.06 L1615.06 1153.31 L1618.63 1153.56 L1622.19 1153.80 L1625.75 1154.04 L1629.32 1154.28 L1632.88 1154.52 L1636.44 1154.76 L1640.01 1154.99 L1643.57 1155.22 L1647.13 1155.44 L1650.69 1155.67 L1654.26 1155.89 L1657.82 1156.11 L1661.38 1156.32 L1664.95 1156.54 L1668.51 1156.75 L1672.07 1156.96 L1675.64 1157.17 L1679.20 1157.37" stroke="#77AC30"/>
</g>
<line x1="998.9" y1="313.2" x2="922" y2="334.5" stroke="#000" stroke-width="3" stroke-linecap="round"/>
<polygon points="899.6,340.9 925.6,318.6 925.9,333.6 933.4,346.5" fill="#000"/>
<line x1="752.4" y1="484.4" x2="826" y2="451" stroke="#000" stroke-width="3" stroke-linecap="round"/>
<polygon points="847.2,441.2 825.0,467.2 822.4,452.5 813.0,440.9" fill="#000"/>
<path d="M1041.2 150.8 C1025 137.5 1000 137.2 980 153 C963 167 950 190 943 208" fill="none" stroke="#000" stroke-width="4.9" stroke-linecap="round"/>
<polygon points="934.5,225.2 930.3,187.7 945.0,197.7 962.6,200.1" fill="#000"/>
<g font-family="'Liberation Serif', 'Times New Roman', serif" fill="#000" stroke="#000">
<text transform="translate(202.58,137.24) scale(1.0365,1.0485)" font-size="68" stroke-width="0.12">0</text>
<text transform="translate(139.28,292.26) scale(1.1036,1.5407)" font-size="68" stroke-width="0">−</text>
<text transform="translate(182.19,279.75) scale(1.0036,1.0398)" font-size="68" stroke-width="0.12">20</text>
<text transform="translate(139.28,436.76) scale(1.1036,1.5407)" font-size="68" stroke-width="0">−</text>
<text transform="translate(183.86,424.24) scale(0.9781,1.0485)" font-size="68" stroke-width="0.12">40</text>
<text transform="translate(139.28,577.76) scale(1.1036,1.5407)" font-size="68" stroke-width="0">−</text>
<text transform="translate(184.08,565.15) scale(0.9824,1.0441)" font-size="68" stroke-width="0.12">60</text>
<text transform="translate(193.57,689.15) scale(1.0400,1.0376)" font-size="68" stroke-width="0.12">0</text>
<text transform="translate(128.76,875.86) scale(1.1067,1.5407)" font-size="68" stroke-width="0">−</text>
<text transform="translate(175.32,863.25) scale(0.9703,1.0387)" font-size="68" stroke-width="0.12">90</text>
<text transform="translate(97.14,1045.66) scale(1.1130,1.5407)" font-size="68" stroke-width="0">−</text>
<text transform="translate(145.23,1033.24) scale(1.0040,1.0496)" font-size="68" stroke-width="0.12">180</text>
<text transform="translate(96.97,1214.61) scale(1.1209,1.5407)" font-size="68" stroke-width="0">−</text>
<text transform="translate(141.27,1201.95) scale(1.0438,1.0398)" font-size="68" stroke-width="0.12">270</text>
<text transform="translate(221.60,1243.16) scale(0.9534,1.0357)" font-size="68" stroke-width="0.12">0.1</text>
<text transform="translate(959.53,1247.70) scale(0.7455,1.0251)" font-size="68" stroke-width="0.12">1</text>
<text transform="translate(1650.28,1243.16) scale(0.9533,1.0289)" font-size="68" stroke-width="0.12">10</text>
<text transform="translate(777.41,1312.40) scale(0.9936,1.0000)" font-size="68" stroke-width="0.12">Frequency/kHz</text>
<text transform="translate(114.00,547.04) rotate(-90) scale(1.0233,1.0292)" font-size="68" stroke-width="0.12">Amplitude/dB</text>
<text transform="translate(85.70,1068.52) rotate(-90) scale(1.0081,0.9825)" font-size="68" stroke-width="0.12">Phase/deg</text>
<text transform="translate(393.00,295.25) scale(0.9162,1.0441)" font-size="68" stroke-width="0.12">10</text>
<text transform="translate(421.84,372.45) scale(0.9900,1.0438)" font-size="68" stroke-width="0.12">5</text>
<text transform="translate(422.71,447.76) scale(0.9878,1.0311)" font-size="68" stroke-width="0.12">0</text>
<text transform="translate(380.14,541.76) scale(1.1130,1.5407)" font-size="68" stroke-width="0">−</text>
<text transform="translate(424.57,529.45) scale(1.0082,1.0460)" font-size="68" stroke-width="0.12">5</text>
<text transform="translate(347.26,617.76) scale(1.1067,1.5407)" font-size="68" stroke-width="0">−</text>
<text transform="translate(395.26,605.14) scale(0.9398,1.0485)" font-size="68" stroke-width="0.12">10</text>
<text transform="translate(1070.39,151.20) scale(1.0571,1.0450)" font-size="68" font-style="italic" stroke-width="0">K</text>
<text transform="translate(1114.71,160.90) scale(1.0203,1.0000)" font-size="46" stroke-width="0.12">c</text>
<text transform="translate(1148.35,151.40) scale(0.9822,1.0500)" font-size="68" stroke-width="0.12">increase</text>
<text transform="translate(935.41,778.00) scale(1.0755,1.0300)" font-size="68" font-style="italic" stroke-width="0">K</text>
<text transform="translate(980.61,788.30) scale(1.0203,1.0000)" font-size="46" stroke-width="0.12">c</text>
<text transform="translate(1013.35,778.00) scale(0.9822,1.0500)" font-size="68" stroke-width="0.12">increase</text>
<text transform="translate(1010.80,339.60) scale(1.0694,1.0000)" font-size="68" font-style="italic" stroke-width="0">K</text>
<text transform="translate(1056.02,350.50) scale(1.0145,1.0000)" font-size="46" stroke-width="0.12">c</text>
<text transform="translate(1073.27,338.51) scale(1.1636,0.9000)" font-size="68" stroke-width="0">=</text>
<text transform="translate(1114.99,340.35) scale(0.9948,1.0354)" font-size="68" stroke-width="0.12">0</text>
<text transform="translate(570.99,512.00) scale(1.0531,1.0200)" font-size="68" font-style="italic" stroke-width="0">K</text>
<text transform="translate(615.39,522.70) scale(1.0319,1.0000)" font-size="46" stroke-width="0.12">c</text>
<text transform="translate(632.38,511.08) scale(1.2206,0.9118)" font-size="68" stroke-width="0">=</text>
<text transform="translate(674.45,512.00) scale(0.9720,1.0300)" font-size="68" stroke-width="0.12">0.4</text>
</g>
</svg>
</body></html>
